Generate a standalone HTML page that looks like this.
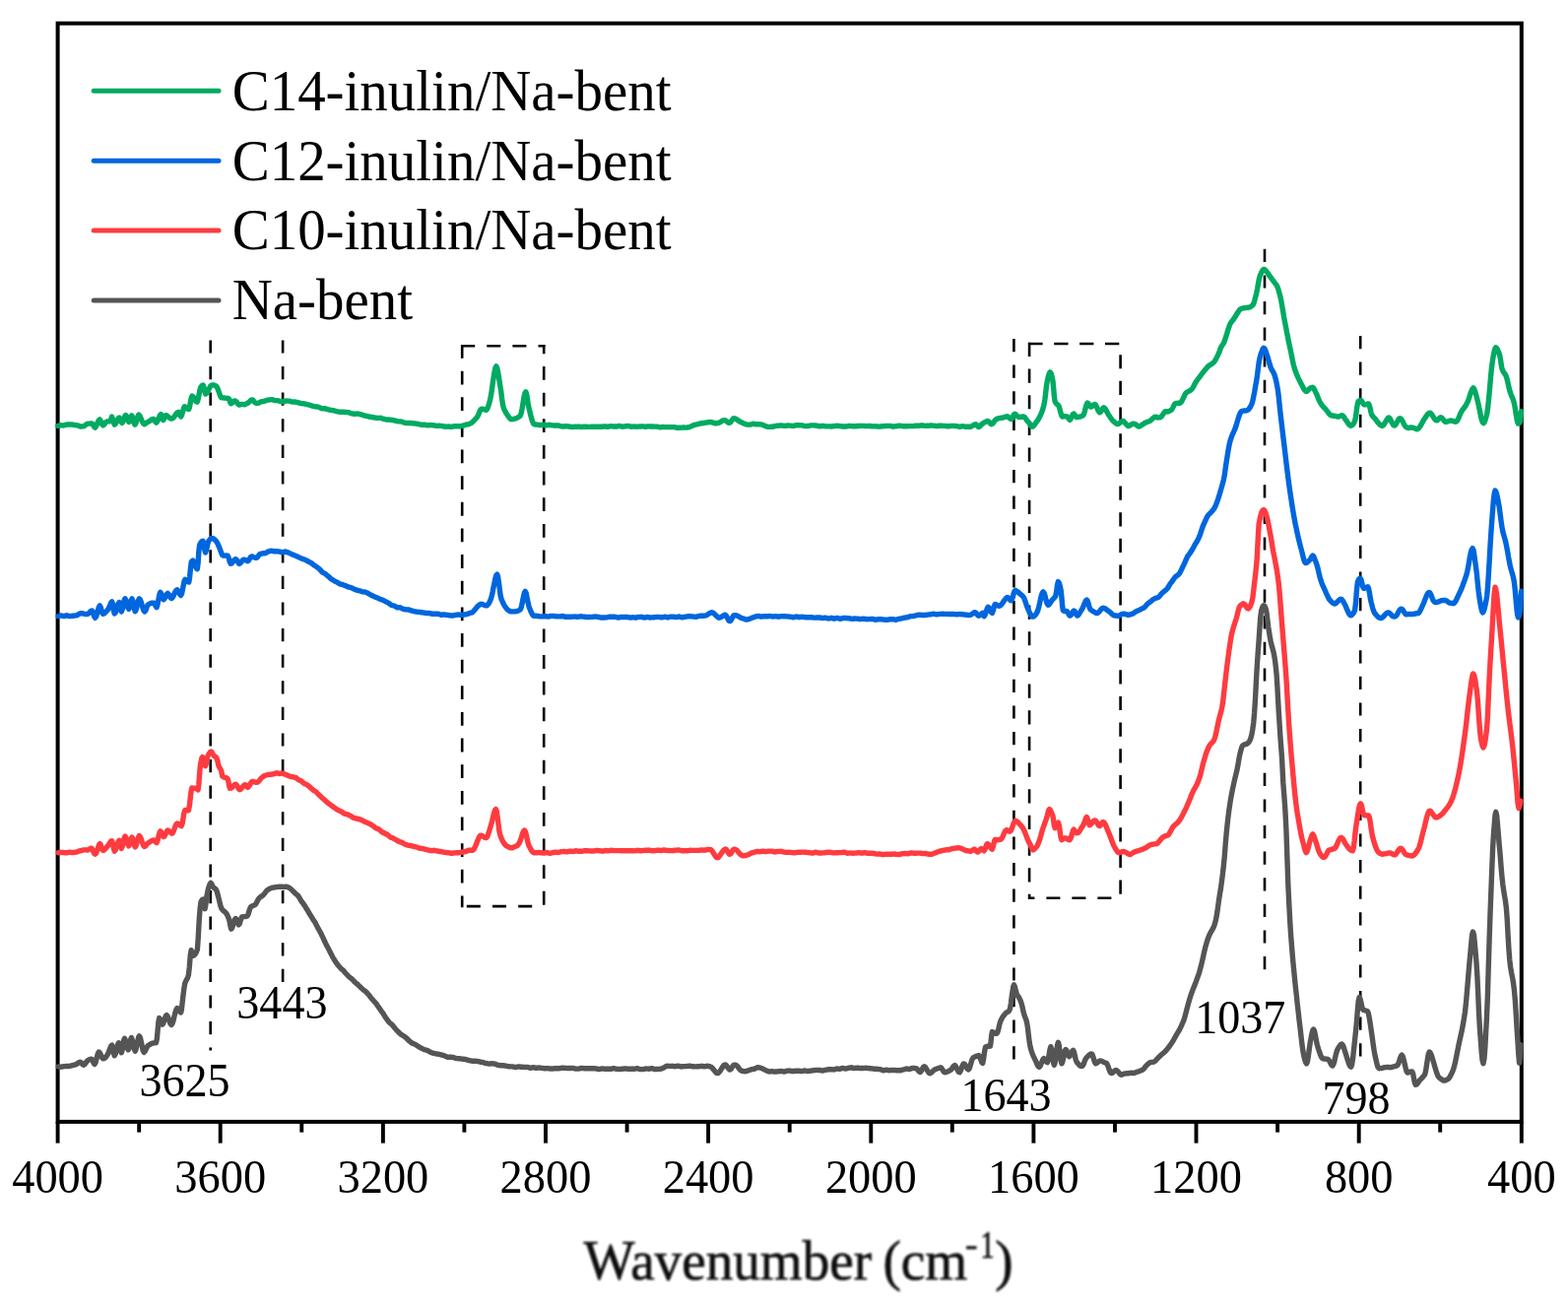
<!DOCTYPE html>
<html><head><meta charset="utf-8"><style>
html,body{margin:0;padding:0;background:#fff;}
svg{display:block;}
text{font-family:"Liberation Serif","Times New Roman",serif;fill:#000;}
.tl{font-size:48px;text-anchor:middle;}
.lg{font-size:59px;}
.an{font-size:48px;text-anchor:middle;}
.ax text{font-size:56px;fill:#111;stroke:#111;stroke-width:0.7px;}
.dash{stroke:#000;stroke-width:2.6;stroke-dasharray:13.5 13.1;}
.dashb{stroke:#000;stroke-width:2.6;stroke-dasharray:14.3 11.8;}
</style></head><body>
<svg width="1592" height="1330" viewBox="0 0 1592 1330">
<defs><filter id="bl" x="-5%" y="-20%" width="110%" height="140%"><feGaussianBlur stdDeviation="1.0"/></filter></defs>
<rect width="1592" height="1330" fill="#fff"/>
<rect x="58.6" y="23.7" width="1486.2" height="1115.2" fill="none" stroke="#000" stroke-width="4"/>
<line x1="58.6" y1="1138.9" x2="58.6" y2="1160.6" stroke="#000" stroke-width="3.9"/>
<text transform="translate(58.6,1211.1) scale(0.967,1)" class="tl">4000</text>
<line x1="223.7" y1="1138.9" x2="223.7" y2="1160.6" stroke="#000" stroke-width="3.9"/>
<text transform="translate(223.7,1211.1) scale(0.967,1)" class="tl">3600</text>
<line x1="388.9" y1="1138.9" x2="388.9" y2="1160.6" stroke="#000" stroke-width="3.9"/>
<text transform="translate(388.9,1211.1) scale(0.967,1)" class="tl">3200</text>
<line x1="554.0" y1="1138.9" x2="554.0" y2="1160.6" stroke="#000" stroke-width="3.9"/>
<text transform="translate(554.0,1211.1) scale(0.967,1)" class="tl">2800</text>
<line x1="719.1" y1="1138.9" x2="719.1" y2="1160.6" stroke="#000" stroke-width="3.9"/>
<text transform="translate(719.1,1211.1) scale(0.967,1)" class="tl">2400</text>
<line x1="884.3" y1="1138.9" x2="884.3" y2="1160.6" stroke="#000" stroke-width="3.9"/>
<text transform="translate(884.3,1211.1) scale(0.967,1)" class="tl">2000</text>
<line x1="1049.4" y1="1138.9" x2="1049.4" y2="1160.6" stroke="#000" stroke-width="3.9"/>
<text transform="translate(1049.4,1211.1) scale(0.967,1)" class="tl">1600</text>
<line x1="1214.5" y1="1138.9" x2="1214.5" y2="1160.6" stroke="#000" stroke-width="3.9"/>
<text transform="translate(1214.5,1211.1) scale(0.967,1)" class="tl">1200</text>
<line x1="1379.7" y1="1138.9" x2="1379.7" y2="1160.6" stroke="#000" stroke-width="3.9"/>
<text transform="translate(1379.7,1211.1) scale(0.967,1)" class="tl">800</text>
<line x1="1544.8" y1="1138.9" x2="1544.8" y2="1160.6" stroke="#000" stroke-width="3.9"/>
<text transform="translate(1544.8,1211.1) scale(0.967,1)" class="tl">400</text>
<line x1="141.2" y1="1138.9" x2="141.2" y2="1149.6" stroke="#000" stroke-width="3.9"/>
<line x1="306.3" y1="1138.9" x2="306.3" y2="1149.6" stroke="#000" stroke-width="3.9"/>
<line x1="471.4" y1="1138.9" x2="471.4" y2="1149.6" stroke="#000" stroke-width="3.9"/>
<line x1="636.6" y1="1138.9" x2="636.6" y2="1149.6" stroke="#000" stroke-width="3.9"/>
<line x1="801.7" y1="1138.9" x2="801.7" y2="1149.6" stroke="#000" stroke-width="3.9"/>
<line x1="966.8" y1="1138.9" x2="966.8" y2="1149.6" stroke="#000" stroke-width="3.9"/>
<line x1="1132.0" y1="1138.9" x2="1132.0" y2="1149.6" stroke="#000" stroke-width="3.9"/>
<line x1="1297.1" y1="1138.9" x2="1297.1" y2="1149.6" stroke="#000" stroke-width="3.9"/>
<line x1="1462.2" y1="1138.9" x2="1462.2" y2="1149.6" stroke="#000" stroke-width="3.9"/>
<line x1="213.7" y1="345.4" x2="213.7" y2="1066.5" stroke="#000" stroke-width="2.6" stroke-dasharray="13.2 13.4" stroke-dashoffset="0"/>
<line x1="287.1" y1="345.4" x2="287.1" y2="998.4" stroke="#000" stroke-width="2.6" stroke-dasharray="13.2 13.4" stroke-dashoffset="0"/>
<line x1="1029.4" y1="344" x2="1029.4" y2="1077.3" stroke="#000" stroke-width="2.6" stroke-dasharray="13.2 13.4" stroke-dashoffset="0"/>
<line x1="1284" y1="252.8" x2="1284" y2="986.6" stroke="#000" stroke-width="2.6" stroke-dasharray="13.2 13.4" stroke-dashoffset="0"/>
<line x1="1381.2" y1="341" x2="1381.2" y2="1074.8" stroke="#000" stroke-width="2.6" stroke-dasharray="13.2 13.4" stroke-dashoffset="0"/>
<line x1="468.2" y1="351.2" x2="553.4" y2="351.2" stroke="#000" stroke-width="2.6" stroke-dasharray="14.0 12.1" stroke-dashoffset="0"/>
<line x1="469.2" y1="350.0" x2="469.2" y2="921.2" stroke="#000" stroke-width="2.6" stroke-dasharray="13.8 12.84" stroke-dashoffset="0"/>
<line x1="552.2" y1="350.0" x2="552.2" y2="920.8" stroke="#000" stroke-width="2.6" stroke-dasharray="13.8 12.84" stroke-dashoffset="4.6"/>
<line x1="473.8" y1="920.1" x2="552.2" y2="920.1" stroke="#000" stroke-width="2.6" stroke-dasharray="14.0 12.2" stroke-dashoffset="0"/>
<line x1="1044.3" y1="349.0" x2="1137.6" y2="349.0" stroke="#000" stroke-width="2.6" stroke-dasharray="14.3 11.6" stroke-dashoffset="0"/>
<line x1="1045.1" y1="347.8" x2="1045.1" y2="912.9" stroke="#000" stroke-width="2.6" stroke-dasharray="14.2 12.47" stroke-dashoffset="0"/>
<line x1="1137.6" y1="349.0" x2="1137.6" y2="912.0" stroke="#000" stroke-width="2.6" stroke-dasharray="14.2 12.47" stroke-dashoffset="15.5"/>
<line x1="1044.3" y1="911.7" x2="1137.6" y2="911.7" stroke="#000" stroke-width="2.6" stroke-dasharray="14.0 12.0" stroke-dashoffset="7.9"/>
<polyline points="59.2,1082.9 60.2,1083.0 61.1,1083.1 62.1,1083.2 63.0,1083.0 64.0,1082.8 64.9,1082.6 65.9,1082.6 66.9,1082.5 67.8,1082.5 68.8,1082.5 69.7,1082.5 70.7,1082.4 71.7,1082.2 72.6,1081.9 73.6,1081.6 74.5,1081.4 75.5,1081.2 76.4,1080.9 77.4,1080.6 78.2,1080.0 79.1,1079.3 79.9,1078.8 80.8,1078.4 81.6,1078.3 82.4,1078.8 83.2,1079.8 84.0,1080.8 84.8,1081.3 85.7,1080.9 86.5,1079.9 87.4,1078.6 88.2,1077.4 89.1,1076.7 90.0,1076.2 90.9,1075.7 91.9,1075.3 92.8,1075.1 93.6,1075.8 94.4,1077.6 95.2,1079.5 96.0,1080.4 96.9,1079.2 97.7,1076.2 98.6,1072.6 99.4,1069.6 100.3,1068.1 101.2,1068.6 102.0,1070.0 102.9,1072.2 103.7,1074.0 104.6,1074.8 105.6,1074.7 106.5,1074.2 107.5,1073.3 108.4,1071.9 109.4,1070.3 110.3,1068.3 111.1,1066.0 112.0,1063.7 112.8,1061.8 113.7,1061.1 114.6,1064.0 115.4,1069.3 116.3,1071.8 117.2,1070.2 118.0,1066.8 118.9,1063.1 119.7,1060.1 120.6,1058.8 121.5,1061.5 122.4,1066.2 123.3,1068.8 124.1,1066.4 124.9,1061.3 125.7,1056.3 126.5,1054.3 127.4,1056.1 128.3,1060.1 129.3,1064.0 130.2,1065.9 131.0,1064.0 131.8,1059.8 132.6,1055.5 133.4,1053.6 134.3,1055.7 135.3,1060.4 136.2,1065.1 137.2,1067.2 138.0,1065.5 138.9,1061.5 139.7,1057.1 140.6,1053.3 141.4,1051.8 142.4,1053.5 143.3,1057.6 144.3,1062.4 145.2,1066.6 146.2,1068.3 147.1,1067.5 148.1,1065.6 149.1,1063.4 150.0,1061.9 150.9,1061.2 151.8,1060.6 152.7,1060.1 153.5,1059.6 154.4,1059.2 155.3,1059.1 156.1,1058.9 156.9,1058.8 157.7,1058.6 158.5,1058.7 159.3,1054.9 160.1,1046.3 160.9,1037.6 161.7,1033.6 162.5,1034.5 163.3,1036.7 164.1,1039.0 164.9,1040.1 165.8,1039.0 166.6,1036.6 167.5,1033.7 168.3,1031.5 169.2,1030.6 170.2,1031.7 171.1,1034.1 172.1,1037.0 173.0,1039.4 174.0,1040.5 175.0,1039.3 176.0,1036.1 176.9,1032.1 177.9,1028.1 178.9,1025.0 179.9,1023.6 180.8,1024.2 181.8,1025.6 182.7,1027.2 183.6,1028.0 184.3,1025.5 185.0,1019.2 185.7,1012.9 186.4,1007.2 187.1,1001.9 187.8,998.3 188.7,996.0 189.6,994.4 190.5,992.7 191.4,990.0 192.3,982.0 193.2,970.5 194.1,964.7 195.0,967.5 195.9,970.3 196.8,970.1 197.7,969.3 198.6,968.1 199.5,966.3 200.4,963.9 201.3,951.1 202.2,934.0 203.1,922.6 204.0,915.7 204.8,914.2 205.5,913.3 206.3,913.0 207.2,917.7 208.1,922.7 209.0,917.6 209.9,910.0 210.7,906.0 211.4,902.6 212.2,899.9 213.1,897.5 214.0,896.3 214.7,897.2 215.5,898.8 216.2,900.3 217.0,901.2 217.8,901.7 218.6,902.3 219.4,903.2 220.3,905.3 221.2,908.7 222.1,912.1 223.0,915.8 223.9,919.6 224.8,922.2 225.7,923.5 226.6,924.5 227.5,925.2 228.4,925.9 229.3,926.8 230.2,927.9 231.1,929.8 232.0,931.9 232.9,934.6 233.8,939.5 234.7,943.2 235.6,942.1 236.5,939.5 237.4,936.3 238.3,933.7 239.2,932.5 240.0,933.4 240.8,935.4 241.6,937.7 242.4,938.8 243.2,937.9 244.0,935.3 244.8,932.6 245.6,931.0 246.5,930.8 247.4,930.6 248.3,930.6 249.2,930.5 250.1,930.3 251.0,930.1 251.9,928.6 252.8,925.6 253.7,922.6 254.6,920.8 255.5,920.2 256.4,919.8 257.3,919.4 258.2,919.0 259.1,918.4 260.0,917.4 260.9,915.6 261.8,913.8 262.7,912.3 263.6,911.4 264.5,910.7 265.4,910.1 266.3,909.5 267.2,908.7 268.1,907.7 269.0,906.6 269.9,905.4 270.8,904.3 271.7,903.5 272.6,902.9 273.5,902.5 274.4,902.0 275.3,901.6 276.2,901.3 277.1,901.1 278.0,901.0 278.9,900.8 279.8,900.6 280.7,900.6 281.6,900.5 282.5,900.4 283.4,900.3 284.4,900.3 285.3,900.3 286.2,900.3 287.1,900.4 288.0,900.5 289.0,900.3 290.0,900.1 290.9,900.2 291.9,900.6 292.8,900.9 293.7,901.4 294.6,902.0 295.6,902.8 296.5,903.7 297.4,904.6 298.3,905.5 299.3,906.5 300.2,907.4 301.1,908.1 302.1,908.9 303.0,909.9 304.0,911.4 304.9,913.1 305.9,914.8 306.8,916.1 307.8,917.3 308.7,918.6 309.7,920.1 310.6,921.6 311.6,923.2 312.6,924.8 313.5,926.4 314.5,928.1 315.4,929.6 316.4,931.1 317.4,932.7 318.3,934.2 319.3,935.6 320.3,937.1 321.2,939.0 322.2,940.9 323.1,942.8 324.1,944.4 325.0,946.1 326.0,947.8 326.9,949.9 327.9,951.9 328.8,953.9 329.8,956.0 330.7,958.0 331.6,959.9 332.6,961.6 333.5,963.3 334.4,965.0 335.3,966.9 336.3,968.7 337.2,970.5 338.1,972.2 339.0,973.8 340.0,975.4 340.9,976.8 341.9,978.1 342.8,979.4 343.8,980.7 344.8,981.8 345.8,982.9 346.7,983.8 347.7,984.6 348.7,985.4 349.6,986.6 350.6,987.7 351.6,988.8 352.6,989.8 353.5,990.8 354.5,991.8 355.4,992.6 356.4,993.3 357.4,994.0 358.3,995.0 359.2,996.0 360.2,997.0 361.1,997.8 362.1,998.6 363.1,999.4 364.0,1000.3 364.9,1001.2 365.9,1002.1 366.8,1003.0 367.8,1003.9 368.8,1004.8 369.7,1005.5 370.7,1006.2 371.7,1007.0 372.7,1008.1 373.7,1009.2 374.7,1010.3 375.6,1011.6 376.6,1012.9 377.6,1014.2 378.6,1015.2 379.6,1016.3 380.6,1017.3 381.6,1018.6 382.6,1019.8 383.5,1021.2 384.5,1022.6 385.5,1024.1 386.5,1025.6 387.4,1026.9 388.4,1028.2 389.4,1029.5 390.3,1031.1 391.3,1032.7 392.3,1034.2 393.3,1035.5 394.2,1036.8 395.2,1038.0 396.2,1038.8 397.1,1039.6 398.1,1040.4 399.1,1041.6 400.0,1042.8 401.0,1044.0 401.9,1045.0 402.9,1046.1 403.9,1047.1 404.8,1048.1 405.8,1049.0 406.8,1049.9 407.7,1050.5 408.7,1051.1 409.7,1051.7 410.7,1052.5 411.7,1053.2 412.7,1054.0 413.7,1055.0 414.7,1056.0 415.7,1057.0 416.7,1057.8 417.7,1058.5 418.7,1059.2 419.7,1059.6 420.7,1060.0 421.7,1060.4 422.7,1061.1 423.7,1061.8 424.7,1062.4 425.7,1063.0 426.7,1063.6 427.7,1064.2 428.7,1064.7 429.7,1065.2 430.7,1065.7 431.7,1065.9 432.7,1066.1 433.7,1066.3 434.6,1066.9 435.6,1067.4 436.6,1068.0 437.6,1068.4 438.6,1068.8 439.6,1069.1 440.6,1069.4 441.6,1069.6 442.6,1069.8 443.6,1070.0 444.6,1070.2 445.6,1070.4 446.6,1070.6 447.6,1070.8 448.6,1071.0 449.6,1071.4 450.6,1071.7 451.6,1072.1 452.6,1072.5 453.6,1072.9 454.6,1073.3 455.6,1073.2 456.6,1073.2 457.6,1073.2 458.6,1073.3 459.6,1073.5 460.6,1073.7 461.6,1074.0 462.6,1074.3 463.6,1074.6 464.6,1074.6 465.6,1074.7 466.6,1074.7 467.6,1074.9 468.6,1075.1 469.6,1075.2 470.6,1075.3 471.6,1075.4 472.6,1075.5 473.6,1075.9 474.6,1076.2 475.6,1076.5 476.6,1076.7 477.6,1076.9 478.6,1077.1 479.6,1077.2 480.6,1077.2 481.6,1077.3 482.6,1077.3 483.6,1077.4 484.6,1077.4 485.5,1077.6 486.5,1077.8 487.5,1078.0 488.5,1078.3 489.5,1078.5 490.5,1078.7 491.5,1079.0 492.5,1079.3 493.5,1079.5 494.5,1079.7 495.5,1079.9 496.5,1080.1 497.5,1080.0 498.5,1079.9 499.5,1079.8 500.5,1079.9 501.5,1080.0 502.5,1080.1 503.5,1080.5 504.5,1080.9 505.5,1081.3 506.5,1081.5 507.5,1081.7 508.5,1081.9 509.5,1081.8 510.5,1081.8 511.5,1081.8 512.5,1082.0 513.5,1082.2 514.5,1082.4 515.5,1082.6 516.5,1082.7 517.5,1082.9 518.5,1082.9 519.4,1082.9 520.4,1082.9 521.4,1083.1 522.4,1083.3 523.4,1083.5 524.4,1083.3 525.4,1083.1 526.4,1082.9 527.4,1083.0 528.4,1083.2 529.4,1083.3 530.4,1083.3 531.4,1083.4 532.4,1083.5 533.4,1083.4 534.4,1083.4 535.4,1083.4 536.4,1083.7 537.4,1084.0 538.4,1084.3 539.4,1084.1 540.4,1083.8 541.4,1083.6 542.4,1083.8 543.4,1084.1 544.4,1084.4 545.4,1084.2 546.3,1084.1 547.3,1083.9 548.2,1084.1 549.2,1084.3 550.1,1084.4 551.1,1084.5 552.0,1084.6 553.0,1084.7 554.0,1084.7 554.9,1084.6 555.9,1084.6 556.8,1084.7 557.8,1084.9 558.7,1085.0 559.7,1085.0 560.6,1085.0 561.5,1085.0 562.4,1084.9 563.3,1084.7 564.2,1084.6 565.1,1084.7 566.0,1084.7 566.9,1084.9 567.8,1084.6 568.8,1084.5 569.8,1084.3 570.8,1084.3 571.7,1084.3 572.7,1084.3 573.7,1084.4 574.7,1084.4 575.7,1084.5 576.7,1084.5 577.6,1084.5 578.6,1084.5 579.6,1084.5 580.6,1084.4 581.6,1084.4 582.6,1084.6 583.6,1084.9 584.5,1085.1 585.5,1085.1 586.5,1085.1 587.5,1085.1 588.5,1084.9 589.5,1084.6 590.4,1084.4 591.4,1084.5 592.4,1084.6 593.4,1084.7 594.4,1084.7 595.4,1084.7 596.4,1084.6 597.3,1084.7 598.3,1084.8 599.3,1084.9 600.3,1084.8 601.3,1084.8 602.3,1084.8 603.2,1084.8 604.2,1084.9 605.2,1085.0 606.2,1085.2 607.2,1085.3 608.2,1085.5 609.2,1085.3 610.1,1085.1 611.1,1085.0 612.1,1085.0 613.1,1085.1 614.1,1085.2 615.1,1085.2 616.0,1085.2 617.0,1085.2 618.0,1085.2 619.0,1085.3 620.0,1085.4 621.0,1085.1 622.0,1084.9 623.0,1084.7 624.0,1084.9 625.0,1085.1 626.0,1085.3 627.0,1085.4 628.0,1085.5 629.0,1085.5 630.0,1085.4 631.0,1085.3 632.0,1085.2 633.0,1085.1 634.0,1085.0 635.0,1084.9 636.0,1085.0 637.0,1085.1 638.0,1085.3 639.0,1085.3 640.0,1085.3 641.0,1085.3 642.0,1085.3 643.0,1085.3 644.0,1085.3 645.0,1085.1 646.0,1084.9 647.0,1084.7 648.0,1085.0 649.0,1085.3 650.0,1085.6 651.0,1085.6 652.0,1085.6 653.0,1085.6 654.0,1085.4 655.0,1085.2 656.0,1085.0 657.0,1085.1 658.0,1085.1 659.0,1085.2 660.0,1085.0 661.0,1084.8 662.0,1084.6 663.0,1085.0 664.0,1085.3 665.0,1085.6 666.0,1085.5 667.0,1085.5 668.0,1085.4 669.0,1085.4 670.0,1085.3 671.0,1085.1 671.9,1084.9 672.9,1084.5 673.9,1084.1 674.8,1083.5 675.8,1082.9 676.7,1082.4 677.7,1082.3 678.7,1082.4 679.7,1082.4 680.7,1082.4 681.6,1082.4 682.6,1082.3 683.6,1082.5 684.6,1082.6 685.6,1082.7 686.6,1082.5 687.5,1082.4 688.5,1082.2 689.5,1082.5 690.5,1082.7 691.5,1083.0 692.5,1082.9 693.4,1082.7 694.4,1082.6 695.4,1082.6 696.4,1082.6 697.4,1082.5 698.4,1082.4 699.4,1082.3 700.3,1082.2 701.3,1082.4 702.3,1082.6 703.3,1082.8 704.3,1082.8 705.3,1082.9 706.2,1082.9 707.2,1082.9 708.2,1082.8 709.2,1082.7 710.2,1082.6 711.2,1082.5 712.1,1082.3 713.1,1082.5 714.1,1082.7 715.1,1082.9 716.1,1082.7 717.1,1082.5 718.0,1082.2 719.0,1082.5 720.0,1082.7 721.0,1082.9 721.9,1083.2 722.8,1083.9 723.7,1084.9 724.6,1086.1 725.6,1087.3 726.5,1088.4 727.4,1089.3 728.3,1089.6 729.2,1089.4 730.1,1088.6 731.0,1087.5 731.9,1086.1 732.9,1084.5 733.8,1083.0 734.7,1081.7 735.6,1081.1 736.5,1081.0 737.4,1081.7 738.3,1082.8 739.2,1084.2 740.1,1085.3 741.0,1086.0 741.9,1085.6 742.8,1084.5 743.6,1083.0 744.5,1081.7 745.4,1081.1 746.4,1081.1 747.4,1081.5 748.4,1082.2 749.4,1083.5 750.4,1084.8 751.4,1086.1 752.4,1086.9 753.4,1087.4 754.4,1087.5 755.4,1087.6 756.4,1087.7 757.3,1087.6 758.3,1087.4 759.3,1087.0 760.3,1086.7 761.2,1086.3 762.2,1086.0 763.2,1085.6 764.2,1085.5 765.1,1085.3 766.1,1085.2 767.1,1084.6 768.1,1084.1 769.0,1083.7 770.0,1083.8 771.0,1083.9 772.0,1084.2 773.0,1084.4 774.0,1084.9 775.0,1085.4 776.0,1085.9 777.0,1086.4 778.0,1086.8 779.0,1087.3 780.0,1087.7 781.0,1088.0 782.0,1087.9 783.0,1087.8 784.0,1087.8 785.0,1087.9 786.0,1088.0 787.0,1088.1 788.0,1088.0 789.0,1087.9 790.0,1087.8 791.0,1087.7 792.0,1087.6 793.0,1087.5 794.0,1087.7 795.0,1087.9 796.0,1088.1 797.0,1087.8 798.0,1087.5 799.0,1087.2 800.0,1087.1 801.0,1087.1 802.0,1087.0 803.0,1087.3 804.0,1087.5 805.0,1087.7 806.0,1087.5 807.0,1087.4 808.0,1087.2 809.0,1087.2 810.0,1087.2 811.0,1087.2 812.0,1087.3 813.0,1087.5 814.0,1087.6 815.0,1087.4 816.0,1087.2 817.0,1087.0 818.0,1087.1 819.0,1087.3 820.0,1087.5 821.0,1087.4 822.0,1087.3 823.0,1087.1 824.0,1087.0 825.0,1086.9 826.0,1086.7 827.0,1086.6 828.0,1086.5 829.0,1086.4 830.0,1086.4 831.0,1086.5 832.0,1086.5 832.9,1086.7 833.9,1086.9 834.9,1087.0 835.9,1086.8 836.9,1086.5 837.9,1086.3 838.8,1086.1 839.8,1086.0 840.8,1085.8 841.8,1085.8 842.8,1085.7 843.7,1085.7 844.7,1085.8 845.7,1085.9 846.7,1086.0 847.7,1085.7 848.7,1085.3 849.6,1085.0 850.6,1085.1 851.6,1085.2 852.6,1085.3 853.6,1085.0 854.6,1084.7 855.5,1084.4 856.5,1084.6 857.5,1084.8 858.5,1085.0 859.5,1084.8 860.4,1084.6 861.4,1084.4 862.4,1084.2 863.4,1084.0 864.4,1083.8 865.4,1084.1 866.3,1084.4 867.3,1084.6 868.3,1084.4 869.3,1084.3 870.3,1084.1 871.3,1084.2 872.2,1084.4 873.2,1084.5 874.2,1084.5 875.2,1084.5 876.2,1084.5 877.2,1084.4 878.1,1084.4 879.1,1084.3 880.1,1084.4 881.1,1084.5 882.1,1084.6 883.1,1084.7 884.1,1084.8 885.0,1084.9 886.0,1085.0 887.0,1085.1 888.0,1085.2 889.0,1085.3 890.0,1085.3 890.9,1085.4 891.9,1085.5 892.9,1085.6 893.9,1085.7 894.9,1086.1 895.9,1086.4 896.9,1086.8 897.8,1086.6 898.8,1086.4 899.8,1086.2 900.8,1086.4 901.8,1086.6 902.8,1086.7 903.7,1086.6 904.7,1086.5 905.7,1086.4 906.7,1086.5 907.7,1086.5 908.6,1086.5 909.6,1086.6 910.6,1086.7 911.6,1086.8 912.5,1086.8 913.5,1086.7 914.5,1086.7 915.4,1086.4 916.4,1086.1 917.4,1085.9 918.4,1085.6 919.3,1085.3 920.3,1085.0 921.3,1085.2 922.2,1085.4 923.2,1085.6 924.2,1085.2 925.1,1084.8 926.1,1084.4 927.1,1084.5 928.1,1084.5 929.0,1084.6 930.0,1084.6 930.8,1085.0 931.6,1085.9 932.5,1087.1 933.3,1088.0 934.1,1088.5 934.9,1087.9 935.8,1086.5 936.6,1084.9 937.5,1083.4 938.3,1082.8 939.2,1083.2 940.1,1084.4 941.0,1086.0 942.0,1087.6 942.9,1089.0 943.8,1089.7 944.7,1089.6 945.6,1088.9 946.5,1088.1 947.5,1087.1 948.4,1086.3 949.3,1085.8 950.2,1085.4 951.2,1085.0 952.1,1084.7 953.0,1084.4 954.0,1084.1 954.9,1083.8 955.7,1084.1 956.5,1085.4 957.4,1086.8 958.2,1088.1 959.0,1088.7 959.9,1088.6 960.8,1088.5 961.8,1088.1 962.7,1087.7 963.6,1087.2 964.5,1086.8 965.5,1086.1 966.5,1085.0 967.4,1083.5 968.4,1082.2 969.4,1081.6 970.4,1082.5 971.3,1084.4 972.3,1086.5 973.2,1088.2 974.2,1088.8 975.0,1087.7 975.9,1085.6 976.7,1083.1 977.6,1081.0 978.4,1079.9 979.4,1080.3 980.3,1081.7 981.3,1083.6 982.2,1085.2 983.2,1086.0 984.2,1084.8 985.1,1082.0 986.1,1078.6 987.0,1075.7 988.0,1074.0 988.9,1073.3 989.9,1072.8 990.8,1072.5 991.7,1072.3 992.7,1071.8 993.6,1071.5 994.4,1072.1 995.2,1074.2 996.1,1076.6 996.9,1078.7 997.7,1079.4 998.6,1075.2 999.6,1067.6 1000.5,1063.1 1001.5,1062.5 1002.4,1062.2 1003.4,1062.3 1004.3,1062.4 1005.3,1062.2 1006.0,1058.2 1006.7,1051.3 1007.4,1047.6 1008.4,1048.0 1009.3,1048.6 1010.3,1049.2 1011.2,1049.3 1012.2,1049.2 1013.1,1047.3 1014.0,1043.9 1014.8,1040.0 1015.7,1037.2 1016.6,1035.2 1017.5,1033.4 1018.5,1031.8 1019.4,1030.7 1020.3,1029.6 1021.2,1028.5 1022.0,1027.9 1022.9,1027.5 1023.7,1027.1 1024.6,1026.1 1025.4,1024.6 1026.4,1018.6 1027.4,1010.7 1028.1,1006.1 1028.8,1001.8 1029.5,999.9 1030.4,1001.9 1031.4,1006.1 1032.3,1009.3 1033.1,1010.8 1033.9,1011.8 1034.8,1013.2 1035.6,1014.7 1036.4,1016.6 1037.3,1019.4 1038.2,1023.1 1039.0,1027.1 1039.9,1030.3 1040.8,1032.7 1041.7,1034.9 1042.6,1038.2 1043.5,1043.6 1044.3,1051.0 1045.2,1058.0 1046.1,1063.1 1046.9,1065.9 1047.7,1068.5 1048.6,1070.7 1049.4,1072.8 1050.2,1074.3 1051.2,1076.4 1052.2,1078.5 1053.1,1080.9 1054.1,1082.6 1055.1,1083.3 1056.1,1082.5 1057.0,1080.3 1058.0,1077.8 1058.9,1075.5 1059.9,1074.6 1060.8,1075.3 1061.7,1076.7 1062.5,1078.2 1063.4,1078.7 1064.2,1076.4 1065.1,1070.9 1066.0,1065.5 1066.8,1062.7 1067.7,1065.4 1068.5,1071.6 1069.4,1078.2 1070.3,1081.3 1071.1,1079.1 1071.9,1073.4 1072.8,1066.5 1073.6,1060.8 1074.4,1058.3 1075.3,1061.5 1076.2,1068.8 1077.0,1076.3 1077.9,1079.8 1078.7,1078.5 1079.5,1075.0 1080.4,1070.7 1081.2,1067.1 1082.0,1065.6 1082.9,1066.6 1083.8,1068.9 1084.6,1071.4 1085.5,1072.6 1086.3,1072.1 1087.1,1070.5 1088.0,1068.6 1088.8,1067.0 1089.6,1066.4 1090.5,1068.1 1091.3,1071.7 1092.2,1075.6 1093.1,1078.1 1094.0,1079.2 1094.9,1080.3 1095.8,1081.3 1096.8,1082.1 1097.7,1082.4 1098.6,1082.5 1099.4,1081.8 1100.3,1080.0 1101.1,1077.8 1102.0,1075.6 1102.8,1074.2 1103.7,1073.2 1104.6,1072.3 1105.5,1071.4 1106.5,1070.6 1107.4,1070.1 1108.3,1069.9 1109.1,1070.8 1109.9,1073.1 1110.8,1076.1 1111.6,1078.6 1112.4,1079.8 1113.4,1079.4 1114.4,1078.7 1115.3,1077.8 1116.3,1077.2 1117.3,1077.0 1118.2,1077.1 1119.1,1077.5 1120.0,1078.0 1120.8,1078.5 1121.7,1078.8 1122.6,1079.1 1123.5,1079.5 1124.5,1081.1 1125.4,1083.7 1126.4,1086.6 1127.3,1088.7 1128.3,1089.6 1129.3,1089.4 1130.2,1088.5 1131.2,1087.6 1132.1,1086.8 1133.1,1086.5 1134.0,1086.9 1135.0,1087.8 1135.9,1088.9 1136.8,1090.1 1137.8,1091.1 1138.7,1091.2 1139.6,1090.9 1140.5,1090.4 1141.5,1090.2 1142.4,1090.0 1143.3,1089.9 1144.2,1089.8 1145.1,1089.7 1146.0,1089.7 1147.0,1089.5 1147.9,1089.3 1148.8,1089.1 1149.7,1089.3 1150.5,1089.4 1151.2,1089.5 1152.0,1089.2 1153.0,1088.8 1154.0,1088.4 1155.0,1088.1 1156.0,1087.8 1157.0,1087.4 1158.0,1087.0 1159.0,1086.6 1160.0,1086.2 1160.9,1085.4 1161.9,1084.4 1162.8,1083.1 1163.8,1082.0 1164.7,1081.0 1165.7,1080.2 1166.6,1079.4 1167.6,1078.8 1168.6,1078.4 1169.6,1078.4 1170.6,1078.3 1171.6,1078.1 1172.6,1077.4 1173.6,1076.5 1174.5,1075.4 1175.5,1074.4 1176.5,1073.3 1177.5,1072.4 1178.4,1071.5 1179.4,1070.7 1180.3,1069.8 1181.3,1069.0 1182.2,1068.2 1183.2,1067.3 1184.1,1066.2 1185.1,1065.1 1186.0,1064.0 1187.0,1062.7 1187.9,1061.4 1188.9,1060.0 1189.8,1058.6 1190.7,1057.2 1191.7,1055.6 1192.6,1053.9 1193.6,1052.2 1194.5,1050.5 1195.5,1048.9 1196.4,1047.4 1197.4,1045.8 1198.4,1043.7 1199.4,1041.6 1200.4,1039.2 1201.4,1037.1 1202.2,1034.9 1203.0,1032.2 1203.9,1028.9 1204.7,1025.7 1205.5,1022.7 1206.3,1019.6 1207.1,1016.7 1208.0,1013.8 1208.8,1011.2 1209.6,1008.8 1210.6,1006.1 1211.6,1003.5 1212.6,1001.1 1213.6,998.6 1214.6,995.9 1215.4,993.7 1216.2,991.4 1217.1,989.0 1217.9,986.3 1218.7,983.3 1219.6,980.0 1220.4,976.5 1221.2,973.1 1222.0,969.5 1222.8,965.8 1223.7,962.2 1224.5,959.2 1225.3,956.4 1226.2,953.7 1227.0,951.4 1227.8,949.4 1228.8,947.4 1229.8,945.6 1230.8,943.9 1231.8,942.1 1232.8,939.7 1233.6,937.1 1234.5,933.7 1235.3,929.6 1236.1,924.5 1236.9,918.5 1237.7,912.9 1238.5,907.7 1239.4,902.5 1240.2,896.7 1241.2,889.0 1242.2,880.4 1243.2,870.4 1243.8,862.7 1244.4,854.8 1245.2,846.0 1246.0,838.0 1246.8,830.8 1247.6,824.2 1248.5,818.1 1249.3,812.7 1250.3,807.0 1251.3,801.9 1252.3,797.2 1253.2,793.1 1254.1,789.4 1255.0,785.6 1255.9,782.0 1256.9,776.7 1257.9,770.8 1258.9,765.6 1259.9,761.7 1260.9,758.4 1261.9,756.7 1262.7,756.2 1263.6,755.9 1264.4,755.7 1265.3,755.5 1266.1,755.1 1267.0,754.4 1267.9,753.5 1268.8,752.1 1269.7,750.0 1270.7,746.6 1271.7,741.2 1272.7,734.1 1273.6,723.9 1274.5,709.9 1275.1,698.2 1275.7,686.3 1276.5,673.2 1277.3,661.5 1278.1,650.5 1278.9,638.7 1279.7,627.3 1280.5,620.5 1281.3,617.8 1282.2,615.6 1283.0,614.7 1283.8,615.0 1284.6,616.6 1285.4,618.7 1286.2,623.2 1287.0,630.2 1287.8,636.8 1288.6,642.1 1289.4,647.0 1290.2,651.3 1291.1,655.0 1292.0,658.2 1292.9,661.6 1293.8,666.0 1294.6,671.1 1295.4,677.8 1296.2,686.1 1296.9,697.2 1297.6,710.0 1298.3,722.5 1299.1,734.9 1299.8,746.4 1300.7,758.2 1301.6,770.6 1302.2,782.6 1302.8,794.5 1303.7,806.4 1304.6,818.1 1305.3,830.0 1306.0,844.6 1306.9,870.8 1307.8,897.3 1308.8,917.9 1309.7,934.9 1310.6,949.1 1311.6,961.5 1312.5,972.8 1313.5,983.2 1314.4,992.6 1315.3,1001.4 1316.3,1010.2 1317.2,1019.0 1318.2,1027.5 1319.1,1035.9 1320.1,1043.9 1321.0,1051.9 1321.9,1060.0 1322.9,1067.1 1323.8,1072.1 1324.7,1075.6 1325.7,1078.6 1326.6,1079.9 1327.5,1077.5 1328.5,1071.1 1329.5,1063.5 1330.4,1057.5 1331.2,1053.4 1332.0,1049.3 1332.8,1046.1 1333.6,1045.0 1334.5,1046.6 1335.3,1050.3 1336.2,1054.9 1337.0,1059.5 1337.9,1062.9 1338.8,1065.7 1339.8,1068.5 1340.7,1071.1 1341.6,1073.1 1342.6,1074.5 1343.5,1075.0 1344.4,1075.0 1345.4,1075.0 1346.3,1075.1 1347.3,1075.3 1348.2,1075.4 1349.1,1076.3 1350.1,1077.8 1351.0,1079.7 1352.0,1081.3 1352.9,1082.0 1353.8,1080.7 1354.8,1077.6 1355.7,1073.3 1356.7,1069.2 1357.6,1066.2 1358.5,1064.5 1359.5,1062.9 1360.4,1061.5 1361.4,1060.4 1362.3,1060.0 1363.2,1060.9 1364.2,1063.0 1365.1,1066.0 1366.1,1069.1 1367.0,1072.0 1367.9,1074.8 1368.9,1077.9 1369.8,1080.5 1370.8,1082.5 1371.7,1083.2 1372.6,1080.8 1373.6,1074.5 1374.5,1065.9 1375.5,1056.6 1376.4,1048.0 1377.4,1038.1 1378.3,1026.3 1379.2,1016.5 1380.2,1012.4 1381.1,1014.3 1382.1,1018.6 1383.0,1023.1 1383.9,1025.3 1384.8,1025.6 1385.8,1025.7 1386.7,1026.0 1387.7,1026.3 1388.6,1026.9 1389.5,1029.4 1390.5,1034.7 1391.5,1041.1 1392.4,1047.4 1393.3,1053.7 1394.2,1060.5 1395.2,1066.9 1396.1,1071.9 1397.1,1076.1 1398.0,1080.2 1399.0,1083.3 1400.0,1084.7 1401.0,1084.6 1402.0,1084.6 1403.0,1084.5 1404.0,1084.2 1405.0,1083.9 1406.0,1083.6 1407.0,1083.6 1408.0,1083.5 1409.0,1083.4 1410.0,1083.5 1411.0,1083.6 1412.0,1083.7 1413.0,1083.5 1414.0,1083.2 1414.9,1082.9 1415.8,1082.7 1416.8,1082.4 1417.7,1082.1 1418.6,1081.8 1419.5,1080.5 1420.5,1077.9 1421.4,1074.8 1422.4,1072.3 1423.3,1071.2 1424.3,1072.6 1425.2,1075.9 1426.2,1080.2 1427.2,1084.4 1428.1,1087.7 1429.1,1089.0 1430.0,1088.8 1431.0,1088.5 1431.9,1088.1 1432.9,1087.9 1433.8,1087.9 1434.7,1090.2 1435.5,1094.8 1436.4,1099.4 1437.3,1101.3 1438.2,1101.0 1439.1,1100.1 1440.1,1098.7 1441.0,1097.3 1441.9,1096.2 1442.8,1095.4 1443.8,1094.4 1444.7,1093.4 1445.7,1092.1 1446.6,1091.0 1447.5,1087.7 1448.4,1081.9 1449.4,1075.4 1450.3,1070.2 1451.2,1068.0 1452.1,1068.7 1453.1,1070.7 1454.0,1073.4 1455.0,1076.7 1455.9,1079.8 1456.8,1082.9 1457.8,1086.2 1458.7,1089.3 1459.7,1091.9 1460.6,1093.5 1461.6,1094.3 1462.6,1095.1 1463.6,1095.9 1464.6,1096.5 1465.6,1097.1 1466.6,1097.0 1467.6,1096.8 1468.6,1096.3 1469.6,1095.9 1470.6,1095.2 1471.5,1094.2 1472.5,1092.4 1473.5,1090.5 1474.5,1088.4 1475.5,1086.0 1476.5,1082.6 1477.5,1078.4 1478.5,1073.6 1479.5,1068.6 1480.5,1063.5 1481.5,1058.6 1482.5,1054.1 1483.5,1049.7 1484.5,1045.1 1485.4,1040.0 1486.4,1034.3 1487.4,1027.9 1488.3,1019.9 1489.2,1009.7 1490.2,998.3 1491.1,987.0 1492.0,976.9 1492.9,967.3 1493.8,957.2 1494.6,949.3 1495.5,946.0 1496.4,948.9 1497.2,956.4 1498.1,966.4 1499.0,977.2 1499.9,991.5 1500.8,1010.6 1501.6,1029.9 1502.5,1045.0 1503.4,1056.9 1504.2,1068.2 1505.1,1076.6 1506.0,1079.7 1506.9,1075.3 1507.8,1064.1 1508.6,1049.0 1509.5,1032.6 1510.4,1011.4 1511.2,983.7 1512.1,954.3 1513.0,928.2 1513.9,904.7 1514.8,881.6 1515.6,861.4 1516.5,846.3 1517.3,836.0 1518.0,827.5 1518.8,824.3 1519.7,828.2 1520.5,837.3 1521.4,848.3 1522.3,858.7 1523.2,868.6 1524.0,879.2 1524.9,889.4 1525.8,897.8 1526.7,904.1 1527.5,909.1 1528.4,914.4 1529.3,921.2 1530.2,932.7 1531.0,948.0 1531.9,963.5 1532.8,975.0 1533.7,982.4 1534.6,987.8 1535.6,992.5 1536.5,997.8 1537.4,1005.0 1538.3,1015.3 1539.2,1028.6 1540.0,1042.7 1540.9,1056.0 1541.8,1070.6 1542.6,1079.2 1543.3,1072.3 1544.0,1060.6" fill="none" stroke="#555555" stroke-width="5.4" stroke-linejoin="round" stroke-linecap="round"/>
<polyline points="59.2,865.7 60.2,865.6 61.1,865.5 62.1,865.4 63.0,865.4 64.0,865.5 64.9,865.6 65.9,865.7 66.9,865.8 67.8,865.9 68.8,865.7 69.7,865.4 70.7,865.2 71.7,865.4 72.6,865.5 73.6,865.6 74.5,865.5 75.5,865.4 76.4,865.2 77.4,865.1 78.4,864.8 79.3,864.4 80.3,864.0 81.2,863.8 82.2,863.7 83.2,863.4 84.1,863.1 85.1,862.9 86.1,862.9 87.0,862.9 88.0,863.0 89.0,863.0 89.9,862.6 90.9,862.0 91.8,861.4 92.8,861.1 93.8,862.2 94.7,864.3 95.6,866.4 96.6,867.2 97.6,866.3 98.5,863.9 99.5,860.9 100.4,858.0 101.4,856.7 102.2,857.5 103.0,860.0 103.8,862.4 104.6,863.5 105.6,863.2 106.5,862.3 107.5,861.2 108.4,860.0 109.4,858.8 110.3,857.7 111.1,856.3 112.0,855.0 112.8,854.0 113.7,853.8 114.6,856.6 115.4,861.7 116.3,864.2 117.3,862.9 118.2,860.2 119.2,857.1 120.1,854.5 121.1,853.3 121.8,855.4 122.6,859.3 123.3,861.5 124.2,859.5 125.2,855.2 126.1,850.9 127.0,849.0 127.9,850.5 128.8,853.8 129.8,857.3 130.7,858.9 131.5,857.6 132.3,854.5 133.2,851.4 134.0,850.0 134.8,851.5 135.6,854.9 136.4,858.3 137.2,859.9 138.0,858.8 138.9,856.0 139.7,852.6 140.6,849.8 141.4,848.5 142.3,849.5 143.2,851.6 144.1,854.4 145.0,856.9 145.9,858.8 146.8,859.5 147.6,859.0 148.4,858.0 149.2,856.9 150.0,856.2 150.9,855.6 151.8,855.1 152.7,854.4 153.7,853.8 154.6,853.3 155.5,853.0 156.4,853.0 157.3,853.7 158.1,854.9 159.0,855.6 159.9,853.6 160.9,849.6 161.9,845.6 162.8,843.9 163.6,844.6 164.4,846.5 165.2,848.4 166.0,849.5 166.9,849.1 167.7,847.7 168.6,845.6 169.4,843.9 170.3,843.0 171.1,843.3 172.0,844.0 172.8,844.8 173.7,845.8 174.5,846.3 175.4,845.7 176.3,843.7 177.2,841.2 178.1,838.6 179.0,836.7 179.9,835.9 180.7,836.3 181.6,836.9 182.4,837.6 183.3,838.1 184.1,838.7 185.1,836.3 186.0,830.8 186.9,825.1 187.9,822.5 188.8,822.7 189.7,822.8 190.6,822.9 191.5,822.8 192.5,817.0 193.5,807.9 194.2,802.9 194.8,800.0 195.6,800.1 196.4,800.2 197.3,800.1 198.1,800.1 199.1,800.4 200.1,801.3 201.1,801.9 201.8,796.8 202.6,786.1 203.3,777.9 204.1,773.3 204.8,769.9 205.6,768.5 206.6,771.0 207.6,775.4 208.6,777.7 209.4,775.4 210.1,771.0 210.9,767.8 211.8,766.1 212.6,764.6 213.5,763.5 214.3,763.0 215.2,763.8 216.0,765.5 216.9,766.9 217.9,767.8 218.9,768.5 219.9,769.5 220.7,771.7 221.4,775.1 222.2,778.1 223.1,779.6 223.9,780.9 224.8,783.0 225.6,787.8 226.5,788.7 227.5,789.1 228.4,789.4 229.3,789.6 230.3,790.0 231.2,790.9 232.0,793.7 232.7,798.0 233.5,800.3 234.5,800.1 235.5,799.5 236.5,798.5 237.5,797.4 238.5,796.5 239.5,796.3 240.4,797.2 241.4,799.1 242.4,800.9 243.3,801.7 244.2,801.4 245.1,800.6 245.9,799.5 246.8,798.4 247.7,797.3 248.6,796.7 249.6,797.2 250.6,798.6 251.6,799.4 252.5,798.6 253.4,797.2 254.3,795.5 255.2,794.1 256.1,793.4 257.0,793.4 257.9,793.7 258.8,794.0 259.7,794.3 260.6,794.4 261.5,794.2 262.4,793.6 263.2,792.6 264.1,791.4 265.0,790.3 265.9,789.5 266.9,788.7 267.9,788.0 268.9,787.3 269.9,787.1 270.9,786.8 271.9,786.6 272.9,786.4 273.9,786.3 274.9,786.2 275.8,786.1 276.8,786.0 277.8,785.9 278.7,785.5 279.6,785.1 280.6,784.8 281.6,785.0 282.5,785.2 283.5,785.5 284.4,785.3 285.4,785.1 286.4,785.0 287.4,785.3 288.3,785.7 289.3,786.1 290.1,786.4 291.0,786.8 291.9,787.1 292.9,787.6 293.8,788.0 294.7,788.3 295.6,788.5 296.5,788.7 297.5,788.9 298.4,789.0 299.3,789.3 300.3,789.5 301.2,790.2 302.2,790.9 303.1,791.7 304.1,792.1 305.0,792.6 306.0,793.0 306.9,793.8 307.9,794.6 308.9,795.5 309.9,795.9 310.9,796.3 311.9,796.8 312.9,797.6 313.9,798.4 314.8,799.3 315.8,800.2 316.8,801.1 317.8,802.0 318.8,802.6 319.8,803.2 320.8,803.8 321.7,804.8 322.7,805.8 323.6,806.8 324.6,807.7 325.6,808.6 326.5,809.5 327.5,810.3 328.4,811.2 329.4,812.0 330.4,812.9 331.3,813.8 332.3,814.7 333.3,815.5 334.3,816.2 335.2,816.9 336.2,817.6 337.2,818.3 338.2,819.0 339.1,819.7 340.1,820.4 341.1,821.1 342.0,821.7 343.0,822.3 344.0,822.9 344.9,823.3 345.9,823.7 346.9,824.1 347.9,824.8 348.8,825.5 349.8,826.1 350.8,826.4 351.7,826.6 352.7,826.8 353.7,827.2 354.6,827.6 355.6,828.1 356.6,828.8 357.6,829.4 358.5,830.1 359.5,830.4 360.5,830.7 361.4,831.0 362.4,831.2 363.4,831.3 364.4,831.5 365.4,831.9 366.3,832.2 367.3,832.6 368.3,833.2 369.2,833.7 370.2,834.3 371.2,834.7 372.2,835.0 373.1,835.5 374.1,835.8 375.0,836.3 376.0,836.7 376.9,837.3 377.9,838.0 378.8,838.6 379.8,839.3 380.7,840.1 381.7,840.8 382.6,841.1 383.6,841.4 384.5,841.7 385.5,842.6 386.5,843.6 387.5,844.5 388.5,845.0 389.5,845.5 390.5,846.0 391.5,846.5 392.5,847.0 393.5,847.5 394.4,848.3 395.4,849.2 396.4,850.0 397.4,850.4 398.4,850.7 399.4,851.0 400.4,851.7 401.4,852.3 402.4,852.9 403.4,853.5 404.4,854.0 405.4,854.5 406.4,854.8 407.4,855.1 408.4,855.4 409.4,856.1 410.4,856.7 411.4,857.3 412.4,857.6 413.3,857.9 414.3,858.2 415.3,858.4 416.3,858.5 417.3,858.7 418.3,859.0 419.3,859.2 420.3,859.5 421.3,859.7 422.3,859.9 423.3,860.1 424.3,860.5 425.3,860.9 426.3,861.3 427.2,861.4 428.2,861.4 429.2,861.5 430.2,861.8 431.2,862.1 432.2,862.4 433.2,862.6 434.2,862.9 435.2,863.1 436.2,863.3 437.2,863.5 438.2,863.7 439.2,863.6 440.1,863.4 441.1,863.3 442.1,863.6 443.1,863.8 444.1,864.0 445.1,864.2 446.1,864.3 447.0,864.5 448.0,864.7 448.9,864.8 449.9,865.0 450.9,865.1 451.8,865.3 452.8,865.5 453.7,865.6 454.7,865.7 455.7,865.9 456.6,866.0 457.6,866.2 458.5,866.3 459.5,866.2 460.4,866.0 461.4,865.9 462.4,865.9 463.3,865.8 464.2,865.8 465.2,865.7 466.1,865.6 467.1,865.6 468.1,865.4 469.0,865.2 470.0,865.0 471.0,864.9 472.0,864.7 473.0,864.5 474.0,864.0 475.0,863.6 476.0,863.2 477.0,863.1 478.0,863.2 478.8,863.4 479.6,863.4 480.6,862.8 481.6,861.5 482.6,859.3 483.6,856.8 484.6,854.1 485.6,851.8 486.6,849.8 487.6,848.4 488.6,848.1 489.5,848.5 490.3,849.1 491.1,849.7 492.0,850.2 492.9,850.6 493.7,850.6 494.6,849.7 495.4,847.7 496.2,845.3 497.1,842.5 497.9,839.7 498.8,836.8 499.7,833.3 500.6,829.2 501.6,825.4 502.5,822.6 503.4,821.6 504.3,823.8 505.1,829.4 506.0,836.3 506.8,843.0 507.7,847.4 508.5,849.8 509.4,851.9 510.2,853.6 511.1,855.1 511.9,856.4 512.8,857.4 513.7,858.4 514.6,859.0 515.5,859.5 516.5,859.9 517.4,860.4 518.3,860.7 519.2,860.8 520.2,860.7 521.1,860.3 522.1,859.8 523.0,859.5 524.0,859.2 525.0,858.7 525.9,857.6 526.9,856.5 527.8,854.6 528.8,852.1 529.7,849.0 530.6,846.2 531.6,843.9 532.5,843.0 533.4,844.3 534.3,847.6 535.2,851.9 536.1,855.9 537.0,858.6 537.9,860.2 538.7,861.9 539.6,863.4 540.5,864.6 541.3,865.3 542.2,865.7 543.1,865.8 544.1,865.9 545.0,865.8 545.9,865.7 546.9,865.5 547.8,865.6 548.8,865.7 549.7,865.8 550.6,865.9 551.6,866.0 552.5,866.1 553.5,865.9 554.4,865.7 555.4,865.5 556.4,865.8 557.3,866.1 558.3,866.3 559.3,866.1 560.3,865.9 561.2,865.7 562.2,865.5 563.2,865.4 564.1,865.2 565.1,865.3 566.1,865.4 567.0,865.5 568.0,865.2 569.0,864.9 569.9,864.6 570.9,864.6 571.9,864.5 572.8,864.5 573.8,864.7 574.8,864.8 575.8,864.9 576.7,864.7 577.7,864.4 578.7,864.1 579.6,864.2 580.6,864.4 581.6,864.5 582.6,864.3 583.6,864.0 584.6,863.8 585.6,863.9 586.6,864.1 587.6,864.2 588.6,864.2 589.6,864.2 590.6,864.2 591.6,864.1 592.6,863.9 593.6,863.7 594.6,863.8 595.6,863.8 596.6,863.8 597.6,863.9 598.6,863.9 599.6,864.0 600.6,864.0 601.6,864.0 602.6,864.0 603.6,863.8 604.6,863.6 605.6,863.5 606.6,863.5 607.6,863.6 608.6,863.7 609.6,863.9 610.6,864.0 611.6,864.2 612.5,864.0 613.5,863.8 614.5,863.5 615.5,863.7 616.5,863.8 617.5,863.9 618.5,863.7 619.5,863.5 620.5,863.3 621.5,863.4 622.5,863.5 623.5,863.6 624.5,863.6 625.5,863.6 626.5,863.6 627.5,863.6 628.5,863.6 629.5,863.6 630.5,863.7 631.5,863.7 632.5,863.8 633.5,863.8 634.5,863.8 635.5,863.8 636.5,863.8 637.5,863.7 638.5,863.7 639.5,863.7 640.5,863.8 641.5,863.8 642.5,863.8 643.5,863.9 644.5,863.9 645.5,863.7 646.5,863.5 647.4,863.3 648.4,863.5 649.4,863.7 650.4,863.8 651.4,863.7 652.4,863.6 653.3,863.5 654.3,863.4 655.3,863.3 656.3,863.3 657.3,863.2 658.3,863.2 659.2,863.2 660.2,863.4 661.2,863.6 662.2,863.8 663.2,863.7 664.2,863.7 665.1,863.6 666.1,863.4 667.1,863.3 668.1,863.1 669.1,863.2 670.0,863.4 671.0,863.6 672.0,863.4 673.0,863.2 674.0,863.0 675.0,863.2 675.9,863.3 676.9,863.4 677.9,863.5 678.9,863.5 679.9,863.6 680.9,863.6 681.8,863.6 682.8,863.7 683.8,863.5 684.8,863.3 685.8,863.2 686.8,863.1 687.7,863.1 688.7,863.0 689.7,863.2 690.7,863.4 691.7,863.6 692.7,863.7 693.6,863.7 694.6,863.8 695.6,863.8 696.6,863.8 697.6,863.8 698.5,863.6 699.5,863.5 700.5,863.3 701.5,863.3 702.4,863.4 703.4,863.4 704.4,863.4 705.4,863.4 706.3,863.4 707.3,863.4 708.3,863.4 709.3,863.4 710.3,863.3 711.2,863.1 712.2,862.9 713.2,863.0 714.2,863.1 715.1,863.2 716.1,863.0 717.1,862.8 718.1,862.5 719.0,862.5 720.0,862.5 721.0,862.4 721.9,862.8 722.8,863.7 723.7,864.9 724.6,866.5 725.6,868.0 726.5,869.4 727.4,870.4 728.3,870.7 729.2,870.5 730.1,869.6 731.0,868.4 731.9,867.0 732.9,865.7 733.8,864.4 734.7,863.4 735.6,862.5 736.5,862.0 737.4,862.4 738.3,863.8 739.2,865.4 740.1,866.8 741.0,867.3 741.9,866.7 742.8,865.4 743.6,863.9 744.5,862.7 745.4,862.1 746.4,862.3 747.4,862.8 748.4,863.5 749.4,864.7 750.4,865.9 751.4,867.1 752.4,867.9 753.4,868.5 754.4,868.8 755.4,868.7 756.3,868.6 757.3,868.3 758.2,868.1 759.2,867.8 760.1,867.5 761.1,867.0 762.0,866.5 763.0,866.0 764.0,865.8 764.9,865.5 765.9,865.3 766.8,865.0 767.8,864.6 768.7,864.4 769.7,864.5 770.7,864.6 771.7,864.7 772.7,864.5 773.7,864.4 774.6,864.2 775.6,864.3 776.6,864.5 777.6,864.6 778.6,864.4 779.6,864.3 780.6,864.1 781.6,864.1 782.6,864.1 783.5,864.1 784.5,864.4 785.5,864.7 786.5,865.0 787.5,864.8 788.5,864.7 789.5,864.5 790.5,864.4 791.4,864.4 792.4,864.3 793.4,864.5 794.4,864.7 795.4,865.0 796.4,865.1 797.4,865.2 798.4,865.4 799.4,865.4 800.3,865.3 801.3,865.3 802.3,865.4 803.3,865.5 804.3,865.6 805.3,865.7 806.3,865.7 807.3,865.7 808.3,865.6 809.2,865.4 810.2,865.3 811.2,865.3 812.2,865.2 813.2,865.2 814.2,865.1 815.2,865.1 816.2,865.1 817.1,865.2 818.1,865.3 819.1,865.4 820.1,865.5 821.1,865.6 822.1,865.8 823.1,865.9 824.1,866.0 825.1,866.1 826.0,865.8 827.0,865.5 828.0,865.2 829.0,865.5 830.0,865.7 831.0,866.0 832.0,866.0 832.9,866.0 833.9,866.0 834.9,865.9 835.9,865.9 836.9,865.9 837.9,865.7 838.8,865.5 839.8,865.3 840.8,865.3 841.8,865.3 842.8,865.3 843.7,865.5 844.7,865.7 845.7,865.9 846.7,865.9 847.7,865.9 848.7,865.8 849.6,865.8 850.6,865.7 851.6,865.6 852.6,865.6 853.6,865.6 854.6,865.5 855.5,865.4 856.5,865.3 857.5,865.2 858.5,865.6 859.5,865.9 860.4,866.2 861.4,866.1 862.4,866.1 863.4,866.0 864.4,866.1 865.4,866.1 866.3,866.2 867.3,866.1 868.3,866.1 869.3,866.0 870.3,865.9 871.3,865.8 872.2,865.7 873.2,865.9 874.2,866.0 875.2,866.2 876.2,866.0 877.2,865.9 878.1,865.7 879.1,865.9 880.1,866.1 881.1,866.3 882.1,866.3 883.1,866.2 884.1,866.1 885.0,866.2 886.0,866.3 887.0,866.5 888.0,866.7 889.0,866.9 890.0,867.1 890.9,867.1 891.9,867.0 892.9,866.9 893.9,867.1 894.9,867.3 895.9,867.5 896.9,867.5 897.8,867.5 898.8,867.4 899.8,867.3 900.8,867.3 901.8,867.2 902.8,867.2 903.7,867.2 904.7,867.2 905.7,867.2 906.7,867.1 907.7,867.0 908.6,867.2 909.6,867.3 910.6,867.4 911.6,867.5 912.5,867.5 913.5,867.5 914.5,867.2 915.4,866.9 916.4,866.6 917.4,866.6 918.4,866.5 919.3,866.5 920.3,866.6 921.3,866.7 922.2,866.7 923.2,866.4 924.2,866.2 925.1,865.9 926.1,866.0 927.1,866.1 928.1,866.3 929.0,866.2 930.0,866.2 931.0,866.1 932.0,866.1 933.0,866.1 933.9,866.1 934.9,866.2 935.9,866.4 936.9,866.6 937.9,866.6 938.9,866.5 939.9,866.5 940.8,866.8 941.8,867.0 942.8,867.2 943.8,867.3 944.8,867.3 945.8,867.3 946.8,867.0 947.7,866.6 948.7,866.1 949.7,865.8 950.7,865.4 951.7,865.0 952.7,864.7 953.7,864.4 954.6,864.0 955.6,863.8 956.6,863.5 957.6,863.4 958.6,863.2 959.5,863.0 960.5,862.8 961.4,862.8 962.4,862.7 963.3,862.7 964.2,862.4 965.2,862.0 966.1,861.7 967.1,861.6 968.0,861.4 969.0,861.3 969.9,861.1 970.9,861.0 971.8,860.8 972.8,860.8 973.8,860.9 974.7,861.0 975.7,861.3 976.6,861.7 977.6,862.2 978.6,862.6 979.5,863.1 980.5,863.5 981.5,863.7 982.4,863.8 983.4,863.9 984.3,864.1 985.3,864.2 986.1,864.1 986.9,863.5 987.8,862.9 988.6,862.3 989.4,862.1 990.3,862.8 991.1,864.0 992.0,864.8 992.9,865.1 993.8,864.3 994.6,863.2 995.4,862.1 996.3,861.6 997.2,862.2 998.2,863.2 999.1,863.8 1000.0,862.5 1000.9,860.0 1001.7,857.5 1002.6,856.6 1003.6,857.3 1004.5,858.6 1005.5,860.2 1006.4,861.5 1007.4,862.2 1008.3,859.6 1009.3,855.0 1010.2,852.5 1011.1,852.5 1012.0,852.6 1013.0,852.7 1013.9,852.6 1014.8,852.4 1015.7,852.3 1016.6,851.9 1017.5,850.5 1018.4,848.6 1019.2,846.6 1020.1,844.7 1021.0,843.3 1021.9,842.6 1022.8,842.8 1023.7,843.4 1024.5,844.0 1025.4,844.2 1026.3,843.3 1027.2,841.3 1028.2,838.6 1029.1,836.0 1030.0,834.0 1030.9,833.3 1031.9,833.6 1032.9,834.2 1033.9,835.1 1034.8,836.2 1035.8,837.3 1036.8,838.4 1037.8,839.6 1038.8,841.1 1039.8,843.1 1040.8,845.4 1041.7,847.9 1042.7,850.5 1043.7,853.0 1044.7,854.9 1045.5,856.5 1046.4,858.3 1047.2,860.4 1048.1,862.0 1048.9,862.9 1049.7,862.5 1050.5,861.8 1051.4,860.9 1052.2,859.9 1053.0,858.8 1053.9,857.0 1054.8,854.7 1055.8,851.8 1056.7,848.7 1057.6,845.3 1058.5,842.2 1059.3,839.7 1060.2,837.4 1061.0,835.1 1061.9,832.7 1062.7,830.3 1063.6,826.8 1064.5,823.1 1065.4,821.5 1066.3,822.2 1067.2,823.9 1068.0,825.9 1068.9,828.3 1069.6,832.3 1070.3,837.9 1071.0,840.7 1071.8,840.0 1072.7,838.0 1073.6,836.1 1074.4,835.1 1075.3,837.9 1076.2,844.0 1077.0,850.0 1077.9,852.6 1078.7,852.3 1079.5,851.6 1080.4,851.2 1081.2,850.9 1082.0,850.9 1082.8,851.1 1083.7,851.7 1084.5,852.4 1085.4,852.7 1086.2,852.7 1087.0,851.4 1087.8,848.9 1088.7,845.8 1089.5,843.2 1090.3,842.2 1091.2,843.2 1092.2,845.0 1093.1,845.9 1094.1,845.7 1095.1,845.1 1096.1,843.8 1097.0,842.2 1098.0,840.4 1099.0,838.9 1100.0,837.5 1100.8,835.6 1101.7,832.9 1102.6,830.5 1103.4,829.5 1104.3,831.7 1105.3,835.6 1106.2,837.8 1107.1,837.3 1108.0,836.3 1109.0,835.0 1109.9,833.9 1110.8,833.2 1111.7,832.9 1112.7,833.5 1113.7,835.0 1114.6,836.7 1115.6,838.2 1116.6,838.7 1117.4,837.9 1118.3,836.5 1119.2,835.1 1120.0,834.5 1120.9,835.0 1121.8,836.3 1122.7,838.0 1123.5,840.1 1124.4,842.3 1125.3,844.5 1126.2,846.6 1127.1,848.9 1128.1,851.5 1129.0,854.0 1129.9,856.4 1130.9,858.7 1131.8,860.3 1132.6,861.7 1133.4,863.0 1134.3,864.3 1135.1,865.3 1135.9,865.7 1136.7,865.7 1137.5,865.5 1138.4,865.2 1139.2,864.7 1140.0,864.5 1141.0,864.5 1141.9,864.8 1142.9,865.3 1143.9,865.8 1144.9,866.5 1145.8,867.2 1146.8,867.5 1147.8,867.3 1148.7,866.8 1149.7,866.2 1150.6,865.7 1151.6,865.1 1152.5,864.6 1153.5,864.3 1154.5,864.0 1155.4,863.8 1156.4,863.5 1157.4,863.2 1158.4,862.8 1159.3,862.5 1160.3,862.2 1161.2,861.7 1162.1,861.3 1163.0,860.8 1163.9,860.3 1164.8,859.7 1165.7,859.1 1166.6,858.6 1167.5,858.0 1168.4,857.6 1169.3,857.4 1170.2,857.2 1171.1,857.1 1172.0,856.9 1172.9,856.9 1173.8,856.9 1174.8,856.5 1175.7,855.7 1176.7,854.5 1177.7,853.3 1178.7,852.0 1179.6,850.9 1180.6,850.1 1181.5,849.6 1182.4,849.1 1183.3,848.7 1184.2,848.5 1185.1,848.2 1186.0,847.8 1186.9,846.7 1187.8,845.2 1188.7,843.5 1189.6,841.9 1190.5,840.3 1191.4,838.9 1192.4,838.0 1193.3,837.2 1194.3,836.4 1195.3,835.5 1196.3,834.5 1197.2,833.4 1198.2,832.0 1199.1,830.4 1200.0,828.7 1200.9,827.0 1201.8,825.2 1202.7,823.4 1203.6,821.6 1204.6,819.6 1205.5,817.4 1206.5,815.2 1207.5,812.8 1208.5,810.5 1209.4,807.9 1210.4,805.5 1211.4,803.3 1212.3,801.6 1213.3,799.9 1214.2,798.3 1215.2,796.4 1216.1,794.2 1217.1,791.8 1218.0,789.2 1218.9,786.0 1219.8,782.4 1220.7,778.6 1221.6,774.9 1222.5,771.7 1223.4,768.7 1224.3,765.8 1225.2,763.1 1226.2,760.7 1227.1,758.6 1228.0,757.0 1228.9,755.7 1229.9,754.7 1230.8,753.8 1231.8,752.7 1232.7,751.2 1233.6,748.5 1234.6,744.7 1235.5,740.2 1236.5,735.4 1237.4,731.2 1238.2,728.1 1239.0,725.2 1239.9,722.0 1240.7,718.3 1241.5,713.8 1242.3,706.7 1243.2,698.5 1244.1,690.6 1245.0,682.8 1245.9,675.4 1246.8,668.5 1247.7,661.5 1248.7,654.8 1249.6,648.7 1250.5,643.9 1251.5,640.0 1252.4,636.6 1253.4,633.6 1254.3,630.8 1255.3,627.8 1256.2,624.2 1257.1,620.4 1258.0,617.1 1258.9,615.4 1259.8,614.5 1260.7,613.8 1261.6,613.1 1262.5,612.8 1263.5,613.3 1264.4,614.6 1265.4,616.1 1266.3,617.4 1267.3,617.9 1268.2,617.3 1269.1,615.9 1270.0,613.9 1270.9,611.5 1271.9,606.4 1272.9,598.5 1273.9,589.8 1274.7,583.0 1275.5,575.4 1276.3,566.1 1277.2,547.8 1278.1,532.5 1279.1,527.1 1280.1,522.8 1281.0,519.9 1282.0,518.1 1283.0,517.6 1283.9,518.3 1284.8,520.3 1285.7,523.0 1286.6,526.3 1287.5,530.1 1288.4,534.8 1289.3,539.7 1290.2,544.7 1291.1,549.8 1291.9,555.1 1292.8,560.3 1293.7,564.8 1294.5,568.8 1295.3,573.0 1296.2,577.8 1297.0,583.0 1297.8,588.9 1298.6,595.8 1299.4,604.7 1300.2,615.2 1301.0,625.8 1301.8,635.8 1302.6,645.8 1303.4,655.9 1304.2,665.8 1305.0,675.7 1305.8,686.6 1306.5,697.9 1307.2,710.1 1307.9,722.4 1308.6,734.2 1309.6,748.2 1310.6,760.8 1311.4,770.3 1312.2,779.3 1313.0,788.0 1313.8,796.6 1314.6,804.9 1315.4,812.1 1316.3,819.3 1317.2,825.7 1318.2,831.5 1319.1,836.8 1320.0,841.9 1320.9,846.7 1321.8,850.8 1322.7,854.3 1323.6,857.6 1324.5,861.4 1325.4,864.3 1326.3,865.6 1327.2,864.3 1328.1,861.2 1329.0,857.5 1329.9,854.3 1330.9,851.0 1331.9,848.0 1332.9,846.9 1333.9,848.4 1334.9,851.5 1335.9,854.4 1336.7,856.8 1337.5,859.5 1338.4,862.3 1339.2,864.7 1340.0,866.4 1340.9,867.7 1341.8,868.8 1342.6,869.8 1343.5,870.3 1344.4,870.4 1345.3,869.9 1346.2,868.4 1347.2,866.5 1348.1,864.6 1349.0,863.4 1349.9,862.9 1350.8,862.8 1351.7,862.5 1352.6,862.1 1353.5,861.8 1354.4,861.8 1355.3,861.4 1356.2,860.2 1357.1,858.2 1358.0,856.0 1358.9,853.9 1359.8,852.1 1360.7,850.9 1361.6,850.4 1362.5,850.7 1363.4,851.7 1364.3,853.1 1365.2,855.0 1366.1,856.7 1367.0,858.0 1367.9,859.2 1368.8,860.4 1369.7,861.5 1370.6,862.4 1371.5,863.1 1372.4,863.5 1373.3,863.8 1374.2,861.0 1375.1,854.1 1376.0,845.6 1376.9,838.5 1377.8,832.6 1378.7,826.6 1379.6,821.2 1380.5,817.4 1381.4,815.8 1382.3,817.5 1383.2,821.5 1384.1,825.6 1385.0,827.6 1385.9,827.7 1386.8,827.9 1387.8,828.0 1388.7,828.2 1389.6,827.9 1390.5,830.1 1391.4,835.6 1392.3,842.3 1393.2,847.6 1394.1,851.3 1395.0,854.6 1395.9,857.5 1396.8,860.0 1397.7,862.3 1398.6,863.9 1399.5,865.1 1400.4,865.9 1401.3,866.5 1402.2,866.9 1403.1,867.2 1404.0,867.2 1404.9,866.9 1405.8,866.9 1406.7,866.8 1407.6,866.6 1408.5,866.3 1409.4,866.1 1410.3,866.0 1411.2,865.9 1412.1,866.2 1413.0,866.6 1413.9,867.2 1414.8,867.7 1415.7,867.9 1416.7,867.6 1417.6,866.6 1418.6,865.2 1419.5,863.8 1420.5,862.5 1421.4,861.5 1422.4,861.3 1423.2,861.8 1424.1,863.0 1425.0,864.3 1425.8,865.8 1426.7,867.0 1427.5,867.6 1428.4,867.9 1429.3,868.1 1430.2,868.4 1431.1,868.6 1432.0,868.7 1432.9,868.9 1433.8,869.0 1434.7,868.7 1435.6,868.0 1436.5,867.1 1437.4,866.1 1438.3,864.7 1439.2,863.3 1440.1,861.7 1441.0,859.8 1441.9,856.9 1442.8,853.3 1443.7,849.5 1444.6,845.8 1445.5,842.6 1446.4,839.1 1447.3,835.2 1448.2,831.4 1449.1,828.1 1450.0,825.5 1450.9,823.7 1451.8,823.2 1452.7,823.8 1453.6,825.0 1454.5,826.2 1455.4,827.5 1456.3,828.6 1457.2,829.7 1458.1,830.0 1459.0,829.9 1459.9,829.5 1460.8,829.0 1461.8,828.3 1462.7,827.6 1463.6,826.9 1464.5,826.2 1465.4,825.1 1466.3,823.9 1467.2,822.8 1468.1,821.7 1469.0,820.5 1469.9,819.3 1470.8,818.1 1471.7,816.7 1472.6,815.2 1473.5,813.3 1474.4,811.1 1475.3,808.6 1476.2,805.7 1477.1,802.5 1478.0,799.2 1478.9,795.5 1479.8,791.6 1480.7,787.5 1481.6,783.0 1482.5,778.2 1483.4,772.9 1484.3,766.9 1485.2,760.7 1486.1,754.3 1487.0,748.0 1487.9,741.2 1488.8,733.6 1489.7,725.4 1490.6,717.3 1491.5,709.7 1492.4,703.1 1493.2,697.1 1494.1,691.0 1494.9,686.1 1495.7,684.0 1496.7,685.6 1497.7,690.0 1498.6,696.1 1499.6,702.8 1500.5,712.8 1501.4,726.5 1502.4,739.9 1503.3,748.6 1504.2,753.5 1505.1,757.3 1506.0,759.0 1506.9,757.4 1507.8,753.2 1508.7,747.0 1509.6,739.6 1510.5,725.8 1511.4,704.9 1512.3,685.1 1513.2,669.0 1514.1,654.1 1515.0,639.8 1516.0,621.5 1517.0,603.9 1518.0,596.1 1518.8,598.3 1519.7,603.9 1520.5,611.9 1521.4,621.2 1522.2,630.8 1523.1,639.5 1524.0,648.2 1524.9,657.5 1525.8,666.9 1526.7,676.2 1527.6,685.3 1528.5,694.6 1529.4,703.8 1530.3,712.6 1531.2,720.9 1532.1,728.4 1533.0,735.5 1533.9,742.4 1534.8,749.5 1535.7,757.2 1536.6,765.8 1537.5,775.1 1538.4,784.4 1539.3,793.6 1540.2,804.7 1541.1,815.7 1542.0,820.6 1543.0,817.8 1543.9,813.2" fill="none" stroke="#ff3b40" stroke-width="5.4" stroke-linejoin="round" stroke-linecap="round"/>
<polyline points="59.2,625.6 60.2,625.4 61.1,625.2 62.1,625.0 63.0,625.1 64.0,625.3 64.9,625.5 65.9,625.3 66.9,625.0 67.8,624.8 68.8,625.1 69.7,625.3 70.7,625.6 71.7,625.5 72.6,625.4 73.6,625.3 74.5,625.2 75.5,625.1 76.4,624.9 77.4,624.9 78.4,624.6 79.3,624.0 80.3,623.3 81.2,622.8 82.2,622.6 83.2,622.7 84.1,622.9 85.1,623.2 86.1,623.4 87.0,623.5 88.0,623.6 88.9,623.4 89.8,622.8 90.7,622.1 91.6,621.1 92.5,620.3 93.4,619.9 94.2,621.1 95.0,623.6 95.8,626.1 96.6,627.3 97.6,626.2 98.5,623.2 99.5,619.5 100.4,616.3 101.4,614.9 102.2,616.4 103.0,619.3 103.8,622.2 104.6,623.3 105.6,623.0 106.5,622.2 107.5,621.3 108.4,620.3 109.4,619.1 110.3,617.8 111.1,615.8 112.0,613.7 112.8,611.7 113.7,610.8 114.6,613.8 115.4,619.8 116.3,623.0 117.3,621.8 118.2,619.0 119.2,615.5 120.1,612.7 121.1,611.5 121.8,614.1 122.6,618.8 123.3,621.0 124.2,618.7 125.2,613.9 126.1,609.5 127.0,607.7 127.9,609.5 128.8,613.1 129.8,616.7 130.7,618.3 131.5,616.6 132.3,613.0 133.2,609.5 134.0,607.9 134.8,609.8 135.6,614.0 136.4,618.4 137.2,620.6 138.0,619.5 138.9,616.3 139.7,612.5 140.6,609.3 141.4,607.8 142.3,608.7 143.2,611.0 144.1,614.2 145.0,617.3 145.9,619.8 146.8,621.0 147.6,620.3 148.4,618.4 149.2,615.9 150.0,614.3 150.9,613.5 151.8,613.0 152.7,612.6 153.7,612.3 154.6,612.2 155.5,612.2 156.4,612.3 157.3,613.4 158.1,615.5 159.0,616.7 159.9,614.1 160.9,608.8 161.9,603.5 162.8,601.2 163.6,602.4 164.4,605.0 165.2,607.6 166.0,608.7 166.9,608.0 167.7,606.5 168.6,604.6 169.4,603.1 170.3,602.4 171.2,603.2 172.2,605.0 173.1,606.8 174.0,607.6 175.0,607.0 176.0,605.3 176.9,603.1 177.9,601.0 178.9,599.4 179.9,598.8 180.8,599.8 181.8,601.7 182.7,603.6 183.6,604.4 184.5,602.9 185.3,599.1 186.2,594.4 187.0,590.2 187.9,588.3 188.9,588.7 189.9,589.7 190.8,590.7 191.8,591.1 192.6,586.1 193.5,576.5 194.3,570.6 195.1,569.5 195.8,569.1 196.7,570.1 197.6,572.2 198.5,574.8 199.4,576.9 200.3,577.7 201.1,571.8 201.8,560.5 202.6,553.5 203.4,551.7 204.3,550.4 205.2,549.5 206.0,549.2 206.9,552.3 207.7,557.9 208.6,560.9 209.6,558.4 210.6,553.2 211.6,549.6 212.6,548.3 213.5,547.3 214.4,546.7 215.4,546.4 216.3,546.6 217.3,547.2 218.2,548.1 219.2,549.1 219.9,550.1 220.7,551.4 221.4,552.8 222.4,555.1 223.4,557.7 224.4,560.4 225.2,562.5 226.0,563.9 226.9,564.1 227.7,564.1 228.6,564.1 229.5,564.0 230.3,564.1 231.2,564.2 232.2,566.4 233.2,570.3 234.2,572.3 235.1,572.0 236.0,571.1 236.8,569.8 237.7,568.7 238.6,567.9 239.5,567.7 240.3,568.3 241.2,569.9 242.1,571.6 242.9,572.4 243.9,571.8 244.9,570.7 245.8,569.4 246.8,568.4 247.8,568.1 248.8,568.3 249.7,568.8 250.7,569.3 251.6,569.7 252.5,569.0 253.4,567.4 254.4,565.7 255.3,564.9 256.2,565.0 257.1,565.4 258.1,565.8 259.0,566.1 259.9,566.4 260.8,566.2 261.7,565.3 262.6,564.0 263.5,562.9 264.4,562.4 265.3,562.2 266.2,562.0 267.1,561.7 268.0,561.8 268.9,561.8 269.8,561.5 270.8,560.9 271.8,560.2 272.7,559.8 273.6,559.6 274.6,559.4 275.5,559.2 276.4,559.4 277.4,559.6 278.3,559.8 279.3,559.8 280.2,559.8 281.2,559.8 282.2,559.9 283.2,560.0 284.2,560.1 285.2,560.5 286.2,560.8 287.1,560.9 288.1,560.5 289.1,560.2 290.0,560.0 291.0,560.4 291.9,560.8 292.9,561.0 293.8,561.5 294.7,562.0 295.6,562.4 296.5,562.8 297.5,563.1 298.4,563.5 299.3,563.9 300.3,564.3 301.2,564.7 302.2,565.1 303.1,565.6 304.1,566.1 305.0,566.5 306.0,566.9 306.9,567.3 307.9,567.6 308.9,568.0 309.9,568.3 310.9,568.9 311.9,569.5 312.9,570.0 313.9,570.5 314.8,571.0 315.8,571.5 316.8,572.2 317.8,573.0 318.8,573.8 319.8,574.4 320.8,575.1 321.7,575.7 322.7,576.5 323.6,577.2 324.6,578.0 325.6,579.1 326.5,580.1 327.5,581.2 328.4,581.7 329.4,582.2 330.4,582.7 331.3,583.5 332.3,584.3 333.3,585.1 334.3,586.0 335.2,586.9 336.2,587.8 337.2,588.4 338.2,589.0 339.1,589.6 340.1,590.1 341.1,590.6 342.0,591.0 343.0,591.6 344.0,592.2 344.9,592.8 345.9,593.1 346.9,593.3 347.9,593.5 348.8,593.9 349.8,594.3 350.8,594.6 351.7,595.1 352.7,595.6 353.7,596.0 354.6,596.2 355.6,596.4 356.6,596.6 357.6,597.2 358.5,597.7 359.5,598.2 360.5,598.5 361.4,598.9 362.4,599.2 363.4,599.5 364.4,599.7 365.4,599.9 366.3,600.2 367.3,600.6 368.3,600.9 369.2,600.9 370.2,601.0 371.2,601.1 372.2,601.6 373.1,602.0 374.1,602.6 375.0,603.1 376.0,603.7 376.9,604.3 377.9,604.7 378.8,605.2 379.8,605.6 380.7,606.0 381.7,606.4 382.6,606.7 383.6,607.2 384.5,607.7 385.5,608.2 386.5,608.5 387.5,608.8 388.5,609.2 389.5,609.7 390.5,610.2 391.5,610.8 392.5,611.2 393.5,611.7 394.4,612.1 395.4,612.9 396.4,613.7 397.4,614.4 398.4,614.7 399.4,614.9 400.4,615.1 401.4,615.7 402.4,616.3 403.4,616.9 404.4,616.9 405.4,616.8 406.4,616.8 407.4,617.3 408.4,617.9 409.4,618.4 410.4,618.6 411.4,618.7 412.4,618.9 413.3,618.9 414.3,619.0 415.3,619.0 416.3,619.4 417.3,619.8 418.3,620.2 419.3,620.4 420.3,620.6 421.3,620.8 422.3,621.0 423.3,621.1 424.3,621.3 425.3,621.4 426.3,621.5 427.2,621.7 428.2,621.8 429.2,621.9 430.2,622.1 431.2,622.2 432.2,622.4 433.2,622.5 434.2,622.5 435.2,622.5 436.2,622.5 437.2,622.8 438.2,623.1 439.2,623.4 440.1,623.3 441.1,623.2 442.1,623.2 443.1,623.2 444.1,623.2 445.1,623.3 446.1,623.6 447.0,624.0 448.0,624.3 448.9,624.2 449.9,624.0 450.9,623.9 451.8,624.1 452.8,624.2 453.7,624.4 454.7,624.5 455.7,624.7 456.6,624.8 457.6,624.9 458.5,625.0 459.5,625.0 460.4,624.8 461.4,624.6 462.4,624.4 463.3,624.3 464.2,624.1 465.2,624.0 466.1,624.1 467.1,624.2 468.1,624.3 469.0,624.2 470.0,624.1 471.0,624.0 472.0,623.9 473.0,623.7 474.0,623.6 475.0,623.2 476.0,622.8 477.0,622.4 478.0,622.2 479.0,622.0 479.9,621.4 480.9,620.4 481.9,619.3 482.8,618.1 483.8,616.9 484.7,615.8 485.7,614.9 486.7,614.0 487.6,613.5 488.6,613.3 489.5,613.4 490.3,613.7 491.1,614.1 492.0,614.5 492.9,614.8 493.7,614.9 494.6,614.6 495.5,613.7 496.5,612.3 497.4,610.4 498.3,608.3 499.2,605.4 500.1,601.3 501.0,596.5 502.0,591.7 502.9,587.3 503.8,584.2 504.7,583.1 505.6,585.4 506.4,591.0 507.3,598.0 508.1,604.3 509.0,608.2 509.9,610.2 510.7,612.1 511.6,613.8 512.4,615.1 513.2,616.4 514.1,617.5 515.0,618.6 515.9,619.3 516.8,620.0 517.8,620.6 518.7,620.8 519.6,620.9 520.5,620.9 521.5,620.9 522.4,620.9 523.4,620.8 524.4,620.6 525.3,620.4 526.3,620.0 527.2,619.5 528.2,618.9 529.1,617.2 529.9,613.7 530.8,609.4 531.6,605.1 532.4,601.8 533.3,600.4 534.2,602.2 535.1,606.8 536.1,611.9 537.0,615.7 537.9,618.0 538.7,620.1 539.6,622.1 540.5,623.8 541.3,624.9 542.2,625.4 543.1,625.3 544.1,625.3 545.0,625.3 545.9,625.5 546.9,625.7 547.8,625.9 548.8,625.9 549.7,625.9 550.6,625.9 551.6,625.8 552.5,625.7 553.5,625.6 554.5,625.8 555.5,625.9 556.5,626.1 557.5,625.9 558.5,625.6 559.5,625.4 560.5,625.4 561.5,625.4 562.5,625.5 563.5,625.6 564.5,625.8 565.5,625.9 566.5,625.9 567.5,625.9 568.5,625.9 569.5,625.8 570.5,625.7 571.5,625.5 572.5,625.8 573.4,626.1 574.4,626.4 575.4,626.3 576.4,626.2 577.4,626.1 578.4,626.2 579.4,626.2 580.4,626.2 581.4,626.1 582.4,626.1 583.4,626.0 584.4,626.1 585.4,626.2 586.4,626.3 587.4,626.1 588.4,626.0 589.4,625.8 590.4,625.9 591.4,626.0 592.4,626.1 593.4,626.2 594.4,626.3 595.4,626.5 596.3,626.5 597.3,626.5 598.3,626.5 599.3,626.4 600.3,626.4 601.3,626.4 602.2,626.3 603.2,626.1 604.2,626.0 605.2,626.1 606.2,626.2 607.2,626.3 608.1,626.5 609.1,626.8 610.1,627.0 611.1,627.0 612.1,627.0 613.1,627.0 614.0,627.0 615.0,626.9 616.0,626.9 617.0,626.7 618.0,626.4 619.0,626.2 619.9,626.2 620.9,626.2 621.9,626.2 622.9,626.3 623.9,626.3 624.8,626.4 625.8,626.6 626.8,626.8 627.8,627.0 628.8,626.8 629.8,626.6 630.7,626.4 631.7,626.5 632.7,626.5 633.7,626.5 634.7,626.5 635.7,626.5 636.6,626.5 637.6,626.7 638.6,626.9 639.6,627.0 640.6,627.0 641.6,626.9 642.5,626.8 643.5,626.9 644.5,627.0 645.5,627.2 646.5,626.9 647.4,626.6 648.4,626.4 649.4,626.4 650.4,626.4 651.4,626.3 652.4,626.6 653.3,626.9 654.3,627.1 655.3,626.9 656.3,626.6 657.3,626.4 658.3,626.6 659.2,626.8 660.2,627.0 661.2,626.9 662.2,626.9 663.2,626.8 664.2,626.7 665.1,626.6 666.1,626.4 667.1,626.4 668.1,626.4 669.1,626.4 670.0,626.6 671.0,626.7 672.0,626.9 673.0,626.6 674.0,626.4 675.0,626.1 675.9,626.4 676.9,626.7 677.9,627.0 678.9,626.7 679.9,626.4 680.9,626.1 681.8,626.1 682.8,626.1 683.8,626.2 684.8,626.3 685.8,626.5 686.8,626.6 687.7,626.4 688.7,626.2 689.7,626.0 690.7,626.3 691.7,626.6 692.7,626.9 693.6,626.6 694.6,626.4 695.6,626.2 696.6,626.1 697.5,625.9 698.5,625.8 699.5,625.8 700.5,625.8 701.4,625.8 702.4,625.9 703.4,626.0 704.3,626.1 705.3,626.1 706.3,626.2 707.3,626.2 708.2,625.9 709.2,625.7 710.2,625.4 711.1,625.3 712.1,625.3 713.1,625.2 714.1,625.2 715.0,625.1 716.0,625.1 716.9,624.8 717.8,624.3 718.7,623.7 719.7,623.1 720.6,622.5 721.5,622.1 722.4,621.8 723.4,621.9 724.3,622.3 725.2,623.2 726.2,624.1 727.1,625.1 728.1,626.0 729.0,626.8 730.0,627.2 730.9,627.0 731.9,626.7 732.8,626.2 733.7,625.5 734.6,624.8 735.6,624.3 736.5,624.3 737.4,625.2 738.3,627.1 739.2,628.8 740.1,630.2 741.0,630.6 741.9,630.1 742.8,628.6 743.6,626.9 744.5,625.2 745.4,624.6 746.4,624.7 747.3,624.8 748.3,625.1 749.3,625.5 750.2,626.0 751.2,626.6 752.2,627.3 753.1,627.6 754.1,627.9 755.1,628.0 756.0,628.5 757.0,628.9 758.0,629.1 759.0,628.9 759.9,628.6 760.9,628.3 761.9,627.9 762.9,627.5 763.8,627.1 764.8,626.8 765.8,626.5 766.8,626.2 767.7,625.8 768.7,625.6 769.7,625.4 770.7,625.6 771.7,625.8 772.7,626.1 773.7,626.0 774.7,625.9 775.6,625.8 776.6,625.8 777.6,625.8 778.6,625.9 779.6,625.7 780.6,625.6 781.6,625.5 782.6,625.6 783.6,625.8 784.6,626.0 785.5,625.9 786.5,625.8 787.5,625.6 788.5,625.8 789.5,626.0 790.5,626.2 791.5,626.0 792.5,625.8 793.5,625.6 794.5,625.6 795.4,625.7 796.4,625.8 797.4,625.8 798.4,625.9 799.4,625.9 800.4,626.0 801.4,626.1 802.4,626.2 803.4,626.4 804.4,626.6 805.3,626.8 806.3,626.5 807.3,626.3 808.3,626.0 809.3,626.2 810.3,626.4 811.3,626.7 812.3,626.5 813.3,626.4 814.3,626.2 815.2,626.4 816.2,626.5 817.2,626.7 818.2,626.7 819.2,626.7 820.2,626.7 821.2,626.7 822.2,626.7 823.2,626.7 824.2,626.8 825.1,626.9 826.1,627.1 827.1,627.1 828.1,627.1 829.1,627.0 830.1,627.0 831.1,627.0 832.1,627.0 833.1,627.2 834.1,627.3 835.0,627.5 836.0,627.4 837.0,627.3 838.0,627.2 839.0,627.5 840.0,627.7 841.0,628.0 842.0,627.8 843.0,627.6 844.0,627.3 845.0,627.6 846.0,627.9 847.0,628.2 848.0,627.9 849.0,627.7 850.0,627.4 851.0,627.7 851.9,628.0 852.9,628.3 853.9,628.0 854.9,627.8 855.9,627.5 856.9,627.5 857.9,627.5 858.9,627.5 859.9,627.6 860.9,627.7 861.9,627.7 862.9,627.9 863.9,628.2 864.9,628.4 865.9,628.3 866.9,628.2 867.9,628.0 868.9,628.1 869.9,628.1 870.9,628.2 871.9,628.3 872.9,628.5 873.8,628.6 874.8,628.4 875.8,628.3 876.8,628.1 877.8,628.3 878.8,628.5 879.8,628.7 880.8,628.6 881.8,628.6 882.8,628.6 883.8,628.5 884.8,628.5 885.8,628.4 886.8,628.7 887.8,629.0 888.8,629.2 889.8,629.1 890.8,628.9 891.8,628.7 892.8,628.7 893.8,628.7 894.8,628.7 895.7,628.9 896.7,629.0 897.7,629.1 898.7,629.2 899.7,629.3 900.7,629.3 901.7,629.1 902.7,628.9 903.7,628.7 904.7,628.7 905.7,628.7 906.7,628.6 907.7,628.9 908.6,629.1 909.6,629.3 910.6,629.0 911.6,628.7 912.5,628.4 913.5,628.2 914.5,628.1 915.4,627.9 916.4,627.7 917.4,627.4 918.4,627.1 919.3,627.0 920.3,626.9 921.3,626.8 922.2,626.4 923.2,626.1 924.2,625.7 925.1,625.6 926.1,625.6 927.1,625.5 928.1,625.3 929.0,625.1 930.0,624.9 931.0,624.7 932.0,624.5 933.0,624.2 933.9,624.3 934.9,624.4 935.9,624.5 936.9,624.5 937.9,624.5 938.9,624.6 939.9,624.4 940.8,624.2 941.8,624.1 942.8,624.0 943.8,623.9 944.8,623.8 945.8,623.6 946.8,623.4 947.7,623.3 948.7,623.4 949.7,623.6 950.7,623.8 951.7,623.7 952.7,623.6 953.7,623.4 954.6,623.4 955.6,623.4 956.6,623.3 957.6,623.3 958.6,623.4 959.6,623.4 960.6,623.4 961.6,623.4 962.5,623.5 963.5,623.5 964.5,623.5 965.5,623.5 966.5,623.5 967.5,623.5 968.5,623.5 969.5,623.6 970.5,623.7 971.5,623.8 972.4,623.7 973.4,623.6 974.4,623.5 975.4,623.6 976.4,623.7 977.4,623.8 978.4,623.9 979.4,624.0 980.4,624.1 981.3,624.2 982.3,624.4 983.3,624.6 984.3,624.4 985.3,624.3 986.3,623.8 987.2,623.2 988.2,622.5 989.1,621.8 990.1,621.7 991.0,622.3 991.9,623.6 992.7,624.7 993.6,625.2 994.4,624.9 995.2,624.2 996.1,623.4 996.9,622.7 997.7,622.4 998.4,624.1 999.1,625.7 999.9,624.8 1000.7,622.5 1001.6,619.9 1002.4,617.5 1003.2,616.4 1004.0,616.9 1004.9,618.5 1005.7,620.3 1006.6,621.8 1007.4,622.4 1008.3,620.1 1009.3,615.8 1010.2,613.5 1011.0,613.6 1011.8,614.0 1012.7,614.5 1013.5,615.0 1014.3,615.3 1015.1,615.1 1015.9,614.5 1016.8,613.7 1017.6,612.6 1018.4,611.5 1019.2,610.2 1020.1,609.1 1020.9,607.9 1021.8,607.1 1022.6,606.5 1023.4,606.7 1024.2,607.4 1025.1,608.5 1025.9,609.4 1026.7,609.7 1027.5,608.5 1028.4,605.8 1029.2,602.5 1030.1,600.2 1030.9,599.4 1031.7,599.9 1032.5,600.3 1033.4,600.9 1034.2,601.6 1035.0,602.4 1035.8,603.1 1036.7,603.7 1037.5,604.4 1038.4,605.2 1039.2,606.3 1040.0,607.8 1040.8,610.1 1041.7,612.7 1042.5,615.3 1043.3,617.3 1044.2,619.3 1045.2,621.5 1046.1,623.5 1047.0,625.2 1048.0,626.0 1048.9,626.1 1049.7,625.6 1050.5,625.0 1051.4,624.1 1052.2,623.1 1053.0,621.6 1053.9,619.3 1054.8,615.8 1055.7,611.9 1056.5,608.0 1057.4,604.5 1058.3,601.9 1059.2,600.9 1060.2,602.2 1061.2,605.6 1062.1,609.5 1063.1,612.8 1064.1,614.2 1064.9,613.9 1065.7,613.0 1066.6,611.7 1067.4,610.4 1068.2,609.3 1069.1,608.3 1070.0,607.4 1070.8,606.4 1071.7,605.4 1072.6,600.9 1073.5,594.0 1074.4,590.5 1075.3,591.9 1076.3,595.2 1077.2,599.6 1077.9,606.2 1078.6,615.0 1079.3,619.7 1080.1,620.2 1080.9,620.5 1081.8,620.5 1082.6,620.5 1083.4,620.7 1084.3,622.1 1085.3,624.1 1086.2,625.1 1087.0,624.8 1087.8,623.7 1088.7,622.3 1089.5,620.7 1090.3,620.0 1091.2,620.6 1092.0,622.4 1092.9,624.2 1093.8,625.1 1094.8,624.5 1095.7,623.2 1096.7,621.5 1097.6,620.0 1098.6,618.5 1099.6,616.6 1100.5,614.1 1101.5,611.7 1102.4,609.9 1103.4,609.0 1104.3,610.2 1105.2,613.1 1106.0,616.4 1106.9,618.5 1107.9,619.4 1108.9,620.1 1109.9,620.7 1110.8,621.1 1111.8,621.8 1112.8,622.3 1113.8,622.6 1114.7,622.3 1115.6,621.5 1116.5,620.5 1117.3,619.4 1118.2,618.4 1119.1,617.6 1120.0,617.3 1121.0,617.4 1122.0,617.8 1123.0,618.5 1124.0,619.4 1125.0,620.2 1126.0,620.7 1127.0,621.5 1128.0,622.4 1129.0,623.4 1130.0,624.3 1130.8,624.8 1131.6,624.9 1132.5,625.0 1133.3,625.0 1134.1,625.3 1135.1,625.3 1136.1,625.2 1137.1,624.6 1138.1,624.0 1139.1,623.5 1140.1,623.3 1141.1,623.3 1142.1,623.3 1143.1,623.6 1144.1,624.0 1145.1,624.3 1146.1,624.2 1147.1,624.0 1148.0,623.6 1149.0,623.5 1149.9,623.1 1150.8,622.7 1151.8,621.9 1152.7,621.3 1153.6,620.7 1154.6,620.3 1155.5,619.8 1156.5,619.4 1157.4,619.0 1158.4,618.5 1159.3,618.0 1160.3,617.6 1161.2,617.1 1162.2,616.4 1163.2,615.3 1164.2,614.1 1165.2,612.9 1166.2,612.2 1167.2,611.5 1168.2,610.8 1169.2,609.9 1170.1,609.1 1170.9,608.5 1171.8,608.0 1172.7,607.6 1173.6,607.1 1174.4,607.0 1175.3,606.7 1176.3,606.3 1177.3,605.2 1178.3,604.0 1179.3,602.7 1180.3,601.8 1181.3,600.9 1182.3,600.1 1183.3,599.3 1184.3,598.4 1185.3,597.4 1186.2,596.1 1187.0,594.7 1187.8,593.2 1188.7,592.0 1189.6,590.8 1190.4,589.7 1191.2,588.6 1192.0,587.4 1192.9,586.3 1193.7,585.4 1194.5,584.7 1195.3,584.2 1196.0,583.7 1196.8,583.0 1197.7,581.8 1198.5,580.4 1199.4,578.6 1200.2,576.8 1201.1,574.9 1202.0,573.2 1202.8,571.5 1203.7,569.4 1204.6,567.4 1205.4,565.4 1206.3,564.1 1207.2,562.9 1208.1,561.8 1208.9,560.4 1209.8,559.1 1210.7,557.7 1211.6,556.0 1212.5,554.4 1213.3,552.7 1214.2,551.4 1215.1,550.0 1215.9,548.5 1216.8,546.7 1217.7,544.7 1218.6,542.4 1219.4,539.8 1220.3,537.1 1221.2,534.4 1222.1,532.4 1222.9,530.6 1223.8,528.7 1224.6,526.7 1225.5,525.0 1226.3,523.7 1227.2,522.5 1228.1,521.5 1229.0,520.7 1229.9,519.8 1230.8,518.8 1231.7,517.6 1232.6,516.5 1233.4,515.1 1234.3,513.3 1235.1,511.1 1236.0,508.7 1236.8,506.4 1237.6,503.9 1238.4,501.3 1239.2,498.5 1240.0,495.7 1240.8,492.9 1241.6,490.1 1242.4,486.8 1243.2,482.9 1243.8,478.7 1244.4,474.2 1245.4,467.7 1246.4,461.4 1247.3,455.7 1248.3,450.6 1249.3,446.7 1250.3,443.8 1251.2,441.4 1252.2,439.3 1253.1,437.2 1254.1,434.9 1255.1,432.0 1256.1,428.6 1257.1,425.2 1258.1,422.2 1259.1,419.5 1260.1,418.0 1261.1,417.3 1262.1,417.1 1263.1,417.0 1264.1,417.0 1265.1,416.9 1266.1,416.7 1267.1,416.2 1268.0,415.2 1269.0,413.9 1269.9,412.2 1270.9,410.1 1271.9,407.0 1272.8,402.5 1273.8,397.5 1274.7,392.0 1275.7,386.6 1276.6,380.3 1277.5,373.2 1278.4,366.5 1279.3,362.2 1280.2,359.2 1281.2,356.6 1282.1,354.3 1283.0,353.3 1283.9,353.8 1284.8,355.9 1285.7,358.5 1286.6,361.2 1287.5,363.9 1288.4,367.2 1289.3,370.4 1290.2,373.1 1291.1,375.0 1292.0,376.7 1292.9,378.2 1293.8,380.2 1294.7,382.9 1295.6,386.5 1296.5,390.8 1297.4,395.9 1298.2,402.1 1299.0,410.1 1299.8,417.8 1300.7,425.6 1301.6,433.2 1302.5,440.8 1303.4,448.2 1304.3,455.7 1305.2,463.3 1306.1,470.9 1307.0,478.2 1307.9,485.3 1308.8,492.1 1309.7,498.6 1310.6,504.7 1311.5,510.6 1312.4,516.2 1313.3,521.6 1314.2,526.7 1315.1,531.6 1316.1,536.3 1317.0,540.6 1317.9,544.6 1318.8,548.3 1319.7,552.1 1320.6,555.6 1321.5,558.9 1322.5,562.9 1323.5,567.1 1324.5,570.3 1325.5,571.6 1326.4,571.4 1327.3,570.9 1328.2,570.1 1329.1,569.2 1330.0,568.3 1330.9,566.8 1331.9,565.0 1332.8,564.0 1333.7,564.8 1334.5,566.6 1335.3,568.9 1336.2,571.1 1337.2,574.1 1338.2,577.8 1339.1,581.9 1340.1,586.0 1341.1,589.4 1341.9,591.7 1342.7,593.8 1343.6,595.7 1344.4,597.5 1345.2,599.2 1346.1,601.3 1347.0,603.4 1348.0,605.4 1348.9,607.3 1349.8,608.7 1350.7,609.8 1351.5,610.6 1352.4,611.5 1353.2,612.2 1354.1,612.7 1354.9,613.0 1355.8,612.8 1356.7,612.1 1357.6,611.3 1358.4,610.4 1359.3,609.5 1360.2,608.7 1361.1,608.3 1362.1,608.5 1363.0,609.6 1364.0,611.1 1364.9,612.7 1365.9,614.6 1366.8,616.7 1367.8,619.2 1368.7,621.2 1369.6,623.1 1370.6,624.4 1371.5,624.9 1372.3,624.5 1373.1,623.7 1374.0,622.7 1374.8,621.3 1375.6,619.6 1376.5,611.6 1377.5,598.7 1378.4,590.8 1379.3,588.9 1380.2,587.6 1381.1,587.1 1382.0,588.6 1382.8,592.0 1383.7,595.5 1384.6,597.3 1385.4,597.2 1386.2,597.0 1387.1,596.5 1387.9,596.0 1388.7,595.7 1389.6,597.7 1390.5,602.1 1391.3,607.4 1392.2,611.6 1393.0,614.7 1393.8,617.8 1394.7,620.3 1395.5,622.2 1396.3,623.2 1397.2,624.4 1398.2,625.4 1399.1,626.3 1400.0,626.9 1401.0,627.3 1401.9,627.5 1402.9,627.3 1403.8,626.6 1404.8,625.8 1405.7,624.7 1406.7,623.7 1407.6,622.7 1408.5,622.1 1409.5,621.9 1410.4,622.1 1411.3,622.8 1412.2,623.8 1413.0,624.8 1413.9,625.5 1414.8,626.0 1415.7,626.0 1416.7,625.9 1417.7,624.9 1418.7,623.6 1419.6,621.7 1420.6,620.0 1421.6,618.7 1422.6,618.1 1423.5,618.5 1424.4,619.4 1425.3,620.9 1426.3,622.4 1427.2,623.6 1428.1,623.8 1429.0,623.6 1429.9,623.4 1430.9,623.5 1431.8,623.5 1432.7,623.6 1433.7,623.5 1434.6,623.5 1435.5,623.4 1436.4,623.2 1437.3,623.0 1438.3,622.7 1439.2,622.8 1440.1,622.5 1441.0,621.6 1442.0,619.9 1442.9,618.0 1443.8,616.0 1444.7,614.0 1445.6,612.0 1446.5,609.6 1447.4,607.3 1448.2,605.2 1449.1,603.3 1450.0,602.0 1450.9,601.4 1451.8,601.9 1452.7,603.5 1453.6,605.6 1454.4,607.9 1455.3,609.7 1456.2,611.0 1457.1,611.5 1458.0,611.5 1458.9,611.4 1459.9,611.2 1460.8,610.8 1461.7,610.4 1462.6,610.0 1463.6,609.7 1464.5,609.6 1465.4,609.5 1466.4,609.4 1467.3,609.5 1468.3,609.8 1469.3,610.4 1470.2,611.1 1471.2,611.8 1472.2,612.1 1473.2,612.3 1474.1,612.4 1475.1,612.7 1476.1,612.5 1477.1,611.6 1478.1,610.1 1479.0,608.1 1480.0,606.0 1481.0,603.8 1482.0,601.7 1483.0,599.6 1484.0,597.2 1485.0,594.7 1485.9,592.1 1486.9,589.5 1487.9,586.7 1488.9,583.7 1489.8,580.1 1490.7,575.4 1491.6,570.3 1492.4,565.3 1493.3,561.0 1494.2,558.0 1495.1,556.7 1496.0,558.5 1496.8,563.3 1497.7,569.8 1498.6,576.4 1499.5,583.7 1500.3,592.3 1501.2,600.6 1502.1,607.2 1502.9,612.3 1503.8,617.1 1504.7,620.7 1505.5,621.8 1506.3,620.7 1507.2,618.0 1508.0,614.4 1508.9,609.9 1509.7,604.8 1510.5,596.6 1511.3,584.0 1512.2,569.4 1513.0,554.5 1513.8,542.1 1514.6,530.5 1515.5,518.9 1516.3,508.6 1517.2,501.1 1518.0,498.1 1518.8,499.0 1519.6,501.6 1520.5,505.4 1521.3,509.7 1522.1,514.1 1523.0,520.7 1524.0,528.5 1524.9,535.0 1525.7,539.0 1526.5,542.3 1527.4,545.3 1528.2,548.2 1529.0,551.5 1529.8,555.6 1530.7,560.3 1531.5,565.3 1532.4,570.1 1533.2,574.1 1534.0,577.4 1534.8,580.3 1535.7,583.2 1536.5,586.4 1537.3,590.4 1538.1,597.3 1538.9,606.7 1539.8,616.4 1540.6,623.9 1541.4,626.9 1542.1,625.9 1542.8,622.8 1543.5,618.3 1544.5,600.2" fill="none" stroke="#0066dd" stroke-width="5.4" stroke-linejoin="round" stroke-linecap="round"/>
<polyline points="58.8,432.3 59.7,432.1 60.7,432.0 61.6,431.8 62.6,431.9 63.5,431.9 64.5,432.0 65.4,431.7 66.4,431.4 67.3,431.1 68.3,431.0 69.2,431.0 70.1,430.9 71.1,431.0 72.0,431.0 73.0,431.0 73.9,431.2 74.9,431.4 75.8,431.5 76.8,431.6 77.7,431.8 78.6,431.9 79.6,432.2 80.5,432.6 81.5,433.0 82.4,433.0 83.4,432.9 84.3,432.9 85.2,432.6 86.2,432.0 87.1,431.3 88.0,430.7 89.0,430.2 89.9,430.1 90.9,430.1 91.8,430.0 92.8,430.0 93.7,430.1 94.6,431.3 95.6,433.3 96.5,434.1 97.4,433.1 98.4,430.9 99.3,428.6 100.3,426.7 101.2,425.9 102.0,426.9 102.8,428.9 103.7,430.9 104.5,431.9 105.3,431.5 106.2,430.5 107.0,429.2 107.8,428.4 108.7,428.0 109.5,427.9 110.4,427.9 111.2,427.8 112.1,427.4 112.8,425.2 113.5,423.1 114.4,425.2 115.4,429.0 116.3,431.1 117.2,430.4 118.2,428.6 119.1,426.5 120.1,424.7 121.0,424.0 121.9,425.5 122.9,428.0 123.8,429.4 124.8,428.2 125.7,425.5 126.6,422.8 127.6,421.5 128.4,422.5 129.2,424.9 130.1,427.3 130.9,428.5 131.8,426.8 132.8,423.5 133.7,421.8 134.5,423.3 135.3,426.5 136.2,429.7 137.0,431.1 137.9,429.8 138.9,426.3 139.9,422.8 140.8,421.0 141.8,421.9 142.7,423.8 143.7,426.2 144.6,428.3 145.6,430.0 146.5,430.7 147.4,430.3 148.4,429.6 149.3,428.8 150.3,428.4 151.2,427.9 152.1,427.4 153.1,426.6 154.0,425.9 155.0,425.4 155.9,425.4 156.8,426.4 157.8,428.3 158.7,429.2 159.6,428.2 160.6,426.1 161.5,423.6 162.5,421.5 163.4,420.6 164.2,422.1 165.0,424.9 165.8,426.5 166.6,425.2 167.3,422.9 168.1,421.7 169.1,421.8 170.0,422.4 170.9,423.2 171.9,424.1 172.9,424.8 173.8,425.1 174.7,425.0 175.7,424.4 176.6,423.6 177.6,422.1 178.5,420.7 179.4,419.4 180.4,418.7 181.3,418.4 182.1,419.7 182.9,421.9 183.7,423.0 184.6,421.3 185.6,417.8 186.5,414.3 187.4,412.7 188.3,413.1 189.1,413.9 190.0,414.8 190.8,415.4 191.7,415.5 192.5,413.3 193.3,408.7 194.2,404.1 195.0,402.0 195.9,402.5 196.7,403.7 197.6,405.3 198.5,406.7 199.3,407.7 200.2,408.1 201.0,406.1 201.9,401.5 202.8,396.6 203.6,393.5 204.5,392.2 205.3,391.3 206.2,391.0 207.1,393.2 207.9,397.5 208.8,400.0 209.7,399.6 210.5,398.4 211.4,396.6 212.3,394.7 213.2,392.8 214.0,391.5 214.9,391.0 215.8,391.0 216.6,391.0 217.5,391.2 218.4,391.4 219.2,392.0 220.1,392.7 221.0,394.5 221.9,397.0 222.9,400.0 223.8,402.4 224.7,403.6 225.6,403.8 226.6,403.9 227.5,404.0 228.4,404.1 229.4,404.1 230.3,404.3 231.3,404.4 232.2,404.6 233.0,405.9 233.7,408.5 234.5,409.7 235.4,409.3 236.3,408.5 237.2,407.6 238.1,407.0 239.0,406.9 239.9,407.7 240.9,409.0 241.9,410.4 242.8,411.1 243.7,410.9 244.7,410.7 245.6,410.4 246.6,410.5 247.5,410.6 248.4,410.7 249.4,410.3 250.3,409.9 251.2,409.3 252.1,408.8 252.9,408.1 253.8,407.4 254.7,406.4 255.6,405.9 256.5,405.9 257.4,406.9 258.3,408.0 259.2,409.0 260.1,409.3 261.1,409.4 262.1,409.3 263.1,408.9 264.0,408.4 265.0,407.9 266.0,407.7 267.0,407.6 268.0,407.4 269.0,407.0 269.9,406.7 270.9,406.4 271.9,406.2 272.9,406.0 273.8,405.9 274.8,405.9 275.7,405.8 276.6,405.8 277.6,406.0 278.5,406.3 279.5,406.6 280.4,406.6 281.3,406.6 282.3,406.7 283.2,407.0 284.2,407.3 285.1,407.6 286.1,407.7 287.1,407.8 288.0,407.7 289.0,407.5 290.0,407.2 291.0,407.0 292.0,407.1 293.0,407.1 294.0,407.2 295.0,407.5 296.0,407.8 297.0,408.1 298.0,408.1 299.0,408.0 299.9,408.0 300.9,408.3 301.9,408.5 302.9,408.8 303.9,409.0 304.9,409.3 305.9,409.6 306.9,409.7 307.9,409.8 308.9,409.9 309.9,410.1 310.9,410.4 311.9,410.7 312.9,410.9 313.9,411.1 314.9,411.3 315.9,411.7 316.9,412.1 317.8,412.4 318.8,412.6 319.8,412.7 320.8,412.8 321.8,413.0 322.8,413.2 323.8,413.4 324.8,413.9 325.8,414.4 326.8,414.8 327.8,414.7 328.8,414.7 329.8,414.6 330.8,415.0 331.8,415.4 332.8,415.7 333.8,416.0 334.8,416.2 335.7,416.4 336.7,416.5 337.7,416.6 338.7,416.7 339.7,417.0 340.7,417.3 341.7,417.6 342.7,417.8 343.7,418.0 344.7,418.1 345.7,418.2 346.7,418.2 347.7,418.3 348.7,418.3 349.7,418.4 350.7,418.5 351.7,418.5 352.6,418.6 353.6,418.6 354.6,419.0 355.6,419.4 356.6,419.8 357.6,419.9 358.6,420.1 359.6,420.3 360.6,420.2 361.6,420.1 362.6,420.0 363.6,420.2 364.6,420.4 365.6,420.6 366.6,420.9 367.6,421.2 368.6,421.5 369.6,421.8 370.6,422.0 371.5,422.3 372.5,422.5 373.5,422.7 374.5,423.0 375.5,423.2 376.5,423.3 377.5,423.5 378.5,423.7 379.5,423.8 380.5,424.0 381.5,424.1 382.5,424.3 383.5,424.4 384.5,424.4 385.5,424.4 386.5,424.3 387.5,424.6 388.4,425.0 389.4,425.3 390.4,425.5 391.4,425.8 392.4,426.0 393.4,426.0 394.4,426.0 395.4,426.1 396.4,426.2 397.4,426.4 398.4,426.5 399.4,426.7 400.4,427.0 401.4,427.2 402.4,427.4 403.4,427.7 404.4,427.9 405.4,427.9 406.4,427.9 407.3,427.9 408.3,428.3 409.3,428.7 410.3,429.1 411.3,429.3 412.3,429.4 413.3,429.5 414.3,429.5 415.3,429.5 416.3,429.4 417.3,429.6 418.3,429.7 419.3,429.8 420.3,429.9 421.3,430.0 422.3,430.1 423.3,430.2 424.2,430.4 425.2,430.6 426.2,430.9 427.2,431.1 428.2,431.4 429.2,431.3 430.2,431.2 431.2,431.1 432.2,431.4 433.2,431.6 434.2,431.9 435.2,431.8 436.2,431.6 437.2,431.5 438.2,431.6 439.2,431.7 440.2,431.8 441.2,432.0 442.2,432.2 443.2,432.4 444.2,432.4 445.1,432.3 446.1,432.3 447.1,432.4 448.1,432.4 449.1,432.5 450.1,432.8 451.1,433.0 452.1,433.2 453.1,433.2 454.1,433.1 455.1,433.0 456.1,433.2 457.1,433.3 458.1,433.4 459.1,433.2 460.1,433.0 461.1,432.8 462.1,432.7 463.1,432.7 464.0,432.6 465.0,432.7 466.0,432.8 467.0,432.8 468.0,432.6 469.0,432.4 470.0,432.1 471.0,431.8 472.0,431.5 473.0,431.2 474.0,431.0 475.0,430.9 476.0,430.6 477.0,430.2 478.0,429.7 479.0,429.1 479.9,428.3 480.9,427.4 481.8,426.3 482.8,425.3 483.7,424.2 484.7,423.1 485.6,421.4 486.4,419.3 487.3,417.1 488.1,415.7 489.0,415.1 489.9,415.2 490.9,415.5 491.8,415.9 492.8,416.1 493.7,416.3 494.6,415.3 495.6,412.9 496.6,409.7 497.5,406.3 498.4,402.2 499.3,396.3 500.2,389.6 501.2,382.9 502.1,377.3 503.0,373.3 503.9,371.8 504.8,373.8 505.8,378.8 506.8,385.0 507.7,390.9 508.7,397.2 509.6,404.6 510.6,411.1 511.6,415.1 512.6,417.0 513.6,418.9 514.6,420.5 515.6,421.9 516.5,423.3 517.5,424.5 518.5,425.5 519.5,425.7 520.5,425.6 521.5,425.4 522.4,425.2 523.4,424.9 524.4,424.5 525.3,424.1 526.3,423.5 527.2,422.9 528.2,422.1 529.1,419.7 530.1,415.0 531.0,409.3 531.9,403.6 532.9,399.4 533.8,397.8 534.6,399.8 535.4,404.5 536.2,409.9 537.0,414.2 537.9,417.7 538.7,421.3 539.6,424.6 540.5,427.5 541.3,429.7 542.2,430.7 543.1,431.0 544.1,431.0 545.0,431.1 545.9,431.1 546.9,431.3 547.8,431.5 548.8,431.6 549.7,431.5 550.6,431.3 551.6,431.2 552.5,431.4 553.5,431.6 554.5,431.8 555.5,431.6 556.5,431.5 557.5,431.3 558.5,431.5 559.5,431.7 560.5,431.9 561.5,431.9 562.5,432.0 563.5,432.0 564.5,432.0 565.5,432.0 566.5,431.9 567.5,432.2 568.5,432.5 569.5,432.8 570.5,432.9 571.5,433.0 572.5,433.0 573.4,432.9 574.4,432.7 575.4,432.6 576.4,432.8 577.4,433.0 578.4,433.2 579.4,433.3 580.4,433.4 581.4,433.5 582.4,433.4 583.4,433.3 584.4,433.2 585.4,433.2 586.4,433.2 587.4,433.1 588.4,433.2 589.4,433.4 590.4,433.5 591.4,433.4 592.4,433.3 593.4,433.2 594.4,433.3 595.4,433.3 596.3,433.4 597.3,433.4 598.3,433.4 599.3,433.4 600.3,433.3 601.3,433.2 602.2,433.1 603.2,433.2 604.2,433.3 605.2,433.4 606.2,433.3 607.2,433.3 608.1,433.2 609.1,433.2 610.1,433.2 611.1,433.3 612.1,433.1 613.1,433.0 614.0,432.9 615.0,433.0 616.0,433.2 617.0,433.3 618.0,433.1 619.0,432.9 619.9,432.7 620.9,432.8 621.9,432.9 622.9,433.0 623.9,433.0 624.8,433.0 625.8,433.0 626.8,432.8 627.8,432.6 628.8,432.4 629.8,432.7 630.7,432.9 631.7,433.2 632.7,433.1 633.7,433.0 634.7,432.9 635.7,432.7 636.6,432.6 637.6,432.4 638.6,432.7 639.6,432.9 640.6,433.2 641.6,433.1 642.5,433.1 643.5,433.0 644.5,433.1 645.5,433.1 646.5,433.2 647.4,433.1 648.4,433.1 649.4,433.0 650.4,433.0 651.4,432.9 652.4,432.9 653.3,433.0 654.3,433.1 655.3,433.2 656.3,433.1 657.3,433.0 658.3,432.9 659.2,432.9 660.2,433.0 661.2,433.0 662.2,433.0 663.2,433.0 664.2,433.1 665.1,433.1 666.1,433.1 667.1,433.1 668.1,433.4 669.1,433.6 670.0,433.8 671.0,433.7 672.0,433.6 673.0,433.5 674.0,433.5 675.0,433.6 675.9,433.6 676.9,433.6 677.9,433.6 678.9,433.6 679.9,433.6 680.9,433.6 681.8,433.6 682.8,433.6 683.8,433.6 684.8,433.6 685.8,433.9 686.8,434.1 687.7,434.4 688.7,434.3 689.7,434.3 690.7,434.2 691.7,434.1 692.7,434.1 693.6,434.0 694.6,434.0 695.6,434.1 696.6,434.1 697.6,434.0 698.6,433.9 699.5,433.8 700.5,433.4 701.5,432.9 702.5,432.4 703.5,432.0 704.5,431.7 705.4,431.3 706.4,431.1 707.4,430.9 708.4,430.7 709.4,430.4 710.3,430.2 711.3,429.9 712.3,429.8 713.2,429.7 714.2,429.5 715.2,429.3 716.2,429.1 717.1,429.0 718.1,428.8 719.1,428.7 720.0,428.6 721.0,428.5 721.9,428.5 722.9,428.8 723.8,429.0 724.7,429.4 725.6,429.7 726.6,429.8 727.5,429.8 728.5,429.5 729.4,429.4 730.4,429.0 731.4,428.6 732.3,427.9 733.3,427.3 734.2,426.9 735.2,426.6 736.1,426.7 736.9,427.1 737.8,427.8 738.6,428.5 739.4,429.1 740.3,429.3 741.1,429.0 742.0,428.3 742.8,427.2 743.7,426.0 744.5,425.0 745.4,424.8 746.4,425.0 747.3,425.4 748.3,426.0 749.3,426.7 750.2,427.5 751.2,428.0 752.2,428.5 753.1,428.9 754.1,429.5 755.1,429.9 756.0,430.2 757.0,430.6 758.0,430.9 758.9,431.1 759.9,431.1 760.8,431.1 761.8,431.1 762.7,430.8 763.7,430.5 764.6,430.2 765.6,430.4 766.6,430.6 767.5,430.8 768.5,430.8 769.4,430.8 770.4,430.8 771.3,430.9 772.3,430.9 773.3,431.0 774.2,431.3 775.2,431.7 776.1,432.1 777.1,432.6 778.1,433.0 779.0,433.3 780.0,433.4 781.0,433.4 782.0,433.4 783.0,433.3 784.0,433.3 784.9,433.2 785.9,432.9 786.9,432.6 787.9,432.4 788.9,432.3 789.9,432.2 790.9,432.1 791.9,432.0 792.9,432.0 793.8,432.0 794.8,432.1 795.8,432.3 796.8,432.4 797.8,432.3 798.8,432.1 799.8,432.0 800.7,432.0 801.7,432.1 802.7,432.1 803.7,432.3 804.7,432.4 805.7,432.5 806.6,432.2 807.6,431.9 808.6,431.7 809.6,431.7 810.6,431.8 811.5,431.8 812.5,431.8 813.5,431.9 814.5,431.9 815.5,432.2 816.4,432.4 817.4,432.6 818.4,432.6 819.4,432.5 820.4,432.5 821.4,432.3 822.3,432.1 823.3,431.9 824.3,431.9 825.3,431.9 826.3,431.9 827.2,432.0 828.2,432.0 829.2,432.1 830.2,432.3 831.2,432.6 832.1,432.8 833.1,432.7 834.1,432.5 835.1,432.4 836.1,432.5 837.1,432.7 838.0,432.9 839.0,432.9 840.0,432.9 841.0,432.9 842.0,432.9 843.0,432.9 844.0,433.0 845.0,432.8 846.0,432.7 847.0,432.6 848.0,432.5 849.0,432.4 850.0,432.3 851.0,432.4 851.9,432.5 852.9,432.6 853.9,432.7 854.9,432.8 855.9,433.0 856.9,433.0 857.9,433.0 858.9,433.0 859.9,432.9 860.9,432.7 861.9,432.5 862.9,432.5 863.9,432.6 864.9,432.6 865.9,432.7 866.9,432.8 867.9,432.9 868.9,432.8 869.9,432.7 870.9,432.5 871.9,432.5 872.9,432.4 873.8,432.4 874.8,432.4 875.8,432.4 876.8,432.4 877.8,432.5 878.8,432.6 879.8,432.6 880.8,432.6 881.8,432.5 882.8,432.4 883.8,432.6 884.8,432.8 885.8,432.9 886.8,432.9 887.8,432.9 888.8,432.8 889.8,432.9 890.8,433.0 891.8,433.1 892.8,433.1 893.8,433.0 894.8,432.9 895.7,432.8 896.7,432.7 897.7,432.6 898.7,432.6 899.7,432.5 900.7,432.4 901.7,432.4 902.7,432.4 903.7,432.4 904.7,432.7 905.7,432.9 906.7,433.1 907.7,433.0 908.6,432.9 909.6,432.8 910.6,432.6 911.6,432.4 912.5,432.2 913.5,432.3 914.5,432.4 915.4,432.5 916.4,432.6 917.4,432.7 918.4,432.7 919.3,432.7 920.3,432.7 921.3,432.7 922.2,432.6 923.2,432.6 924.2,432.6 925.1,432.6 926.1,432.6 927.1,432.6 928.1,432.5 929.0,432.3 930.0,432.2 931.0,432.2 932.0,432.3 933.0,432.4 933.9,432.2 934.9,432.0 935.9,431.8 936.9,432.0 937.9,432.2 938.9,432.4 939.9,432.4 940.8,432.3 941.8,432.3 942.8,432.2 943.8,432.1 944.8,432.0 945.8,432.0 946.8,432.1 947.7,432.1 948.7,432.3 949.7,432.4 950.7,432.6 951.7,432.5 952.7,432.3 953.7,432.2 954.6,432.2 955.6,432.3 956.6,432.3 957.6,432.4 958.6,432.4 959.6,432.4 960.6,432.6 961.6,432.7 962.5,432.9 963.5,432.7 964.5,432.6 965.5,432.4 966.5,432.4 967.5,432.4 968.5,432.4 969.5,432.5 970.5,432.6 971.5,432.6 972.4,432.9 973.4,433.1 974.4,433.3 975.4,433.1 976.4,432.9 977.4,432.7 978.4,432.9 979.4,433.1 980.4,433.3 981.3,433.3 982.3,433.3 983.3,433.3 984.3,433.3 985.3,433.2 986.2,433.0 987.1,432.5 988.0,431.9 989.0,431.3 989.9,430.9 990.8,430.8 991.7,431.6 992.7,432.9 993.6,433.5 994.4,433.1 995.2,432.4 996.1,431.5 996.9,430.6 997.7,430.0 998.6,429.4 999.5,428.9 1000.5,428.4 1001.4,427.9 1002.3,427.5 1003.2,427.6 1004.1,428.2 1005.0,429.3 1005.8,430.3 1006.7,430.7 1007.7,430.2 1008.6,429.1 1009.6,427.7 1010.5,426.4 1011.5,425.6 1012.5,425.2 1013.5,424.9 1014.5,424.6 1015.4,424.4 1016.4,424.3 1017.4,424.1 1018.4,424.0 1019.2,423.7 1020.1,423.4 1020.9,423.1 1021.8,422.9 1022.6,422.7 1023.4,423.0 1024.2,423.7 1025.1,424.6 1025.9,425.3 1026.7,425.5 1027.6,424.8 1028.5,422.9 1029.3,421.0 1030.2,420.2 1031.2,420.7 1032.1,421.8 1033.1,422.6 1034.0,423.3 1035.0,423.5 1035.9,423.4 1036.8,423.3 1037.6,423.2 1038.5,422.9 1039.4,423.0 1040.3,423.5 1041.2,424.6 1042.0,425.9 1042.9,427.2 1043.8,428.2 1044.7,429.2 1045.6,430.4 1046.6,432.1 1047.5,433.1 1048.5,433.1 1049.5,432.3 1050.5,431.1 1051.4,429.7 1052.4,428.3 1053.4,426.9 1054.4,425.4 1055.3,423.8 1056.2,421.9 1057.2,419.8 1058.1,417.4 1059.0,414.6 1059.9,411.3 1060.8,406.2 1061.7,398.9 1062.5,391.6 1063.4,386.4 1064.3,382.6 1065.2,379.4 1066.1,377.8 1067.0,378.9 1068.0,382.0 1068.9,386.4 1069.6,392.9 1070.3,401.7 1071.0,407.1 1071.8,408.8 1072.6,409.9 1073.5,410.6 1074.3,411.3 1075.1,412.5 1076.0,415.1 1076.8,418.6 1077.7,421.7 1078.6,423.0 1079.6,422.9 1080.5,422.7 1081.5,422.8 1082.4,422.8 1083.4,423.0 1084.3,423.8 1085.3,425.5 1086.2,426.4 1087.0,425.5 1087.8,423.8 1088.7,421.8 1089.5,420.4 1090.3,420.0 1091.2,421.2 1092.2,422.9 1093.1,423.7 1094.1,423.4 1095.1,423.4 1096.1,423.2 1097.0,423.0 1098.0,422.6 1099.0,422.1 1100.0,421.5 1100.8,419.6 1101.6,416.5 1102.5,412.9 1103.3,410.2 1104.1,409.1 1105.0,409.6 1105.8,411.0 1106.7,412.4 1107.6,413.1 1108.4,412.8 1109.2,412.0 1110.1,411.2 1110.9,410.6 1111.7,410.5 1112.7,411.5 1113.7,413.5 1114.6,415.9 1115.6,417.8 1116.6,418.8 1117.4,418.2 1118.2,417.0 1119.1,415.5 1119.9,414.3 1120.7,413.8 1121.6,414.3 1122.5,415.6 1123.5,417.4 1124.4,419.1 1125.3,420.8 1126.2,422.0 1127.1,423.4 1128.0,424.8 1129.0,426.2 1129.9,427.1 1130.8,428.0 1131.7,428.7 1132.7,429.6 1133.6,430.2 1134.5,430.5 1135.4,430.3 1136.3,429.8 1137.2,429.2 1138.2,428.4 1139.1,427.7 1140.0,427.4 1140.9,427.8 1141.7,428.7 1142.6,429.7 1143.5,430.8 1144.4,431.7 1145.2,432.4 1146.1,432.5 1147.0,432.1 1148.0,431.4 1148.9,430.8 1149.9,430.4 1150.8,430.2 1151.7,430.3 1152.6,430.7 1153.5,431.2 1154.4,432.0 1155.3,432.6 1156.2,433.0 1157.1,432.8 1157.9,432.4 1158.8,431.8 1159.7,431.2 1160.6,430.6 1161.4,430.1 1162.3,429.5 1163.3,429.0 1164.2,428.5 1165.2,428.3 1166.1,428.0 1167.1,427.6 1168.1,427.0 1169.0,426.2 1170.0,425.2 1170.9,424.4 1171.9,423.7 1172.8,423.2 1173.8,423.3 1174.6,423.6 1175.4,424.0 1176.3,423.9 1177.1,423.9 1177.9,423.8 1178.8,423.4 1179.7,422.3 1180.6,421.0 1181.5,419.6 1182.4,418.4 1183.3,417.7 1184.2,417.7 1185.1,417.8 1186.0,418.0 1186.9,417.5 1187.8,417.1 1188.7,416.5 1189.7,415.8 1190.6,414.2 1191.6,412.3 1192.5,410.5 1193.5,409.6 1194.4,409.4 1195.4,409.4 1196.3,409.3 1197.3,409.3 1198.2,409.1 1199.1,408.5 1199.9,407.2 1200.8,405.4 1201.7,403.5 1202.6,401.6 1203.4,399.9 1204.3,398.8 1205.2,398.1 1206.2,397.6 1207.1,397.1 1208.1,396.6 1209.0,396.1 1209.9,395.2 1210.8,394.1 1211.7,392.5 1212.6,390.7 1213.5,388.9 1214.4,387.6 1215.3,386.3 1216.2,385.0 1217.1,383.8 1218.0,382.6 1218.9,381.5 1219.8,380.2 1220.7,379.0 1221.6,377.9 1222.5,376.7 1223.4,375.6 1224.3,374.6 1225.2,373.5 1226.2,372.4 1227.1,371.4 1228.0,370.8 1228.9,370.3 1229.8,369.8 1230.7,369.2 1231.6,368.5 1232.5,367.7 1233.4,366.5 1234.4,364.9 1235.4,362.9 1236.4,360.9 1237.4,358.7 1238.3,356.4 1239.1,353.9 1240.0,351.9 1241.0,350.4 1242.0,349.0 1242.9,347.2 1243.8,344.8 1244.7,341.9 1245.7,338.8 1246.6,335.6 1247.5,332.8 1248.4,330.3 1249.3,328.2 1250.3,326.8 1251.2,325.6 1252.2,324.5 1253.1,323.0 1254.1,321.6 1255.1,319.9 1256.1,318.3 1257.1,316.7 1258.1,315.3 1259.1,314.1 1260.1,313.5 1261.0,313.2 1262.0,312.9 1262.9,312.8 1263.8,312.6 1264.8,312.5 1265.7,312.4 1266.6,312.3 1267.6,312.2 1268.5,312.0 1269.4,311.6 1270.3,311.1 1271.2,310.4 1272.1,309.5 1273.0,307.6 1273.9,304.7 1274.8,301.2 1275.7,297.6 1276.6,293.2 1277.5,288.0 1278.4,283.1 1279.3,279.8 1280.2,277.7 1281.2,275.7 1282.1,274.2 1283.0,273.5 1283.9,273.7 1284.8,274.4 1285.7,275.3 1286.6,276.5 1287.6,277.9 1288.5,279.4 1289.5,280.8 1290.4,282.1 1291.4,283.3 1292.4,284.7 1293.3,285.9 1294.3,287.2 1295.2,288.2 1296.2,289.6 1297.1,291.5 1298.0,294.2 1298.9,297.4 1299.8,300.8 1300.8,305.2 1301.7,310.5 1302.7,316.2 1303.6,321.9 1304.6,327.2 1305.6,332.2 1306.5,337.2 1307.5,342.1 1308.4,346.9 1309.4,351.4 1310.4,356.0 1311.3,360.6 1312.3,365.5 1313.2,369.9 1314.2,373.6 1315.1,376.3 1316.0,378.7 1316.9,380.9 1317.8,383.1 1318.8,385.1 1319.7,386.9 1320.6,388.7 1321.5,390.4 1322.5,392.3 1323.4,394.1 1324.4,395.8 1325.3,396.9 1326.3,397.5 1327.2,397.1 1328.2,396.1 1329.1,395.0 1330.0,394.2 1330.9,393.8 1331.9,393.5 1332.8,393.3 1333.7,394.0 1334.6,395.8 1335.5,397.7 1336.4,399.4 1337.4,401.7 1338.3,404.1 1339.2,406.3 1340.2,408.2 1341.1,409.8 1342.0,411.1 1342.9,412.2 1343.8,413.3 1344.8,414.3 1345.7,415.3 1346.6,416.3 1347.5,417.5 1348.4,418.7 1349.3,419.9 1350.3,421.0 1351.2,421.7 1352.1,422.0 1353.0,422.0 1353.9,422.2 1354.8,422.3 1355.8,422.4 1356.7,422.7 1357.6,423.0 1358.6,423.1 1359.6,422.8 1360.5,422.4 1361.5,422.0 1362.5,421.7 1363.3,422.0 1364.1,422.9 1365.0,424.2 1365.8,425.5 1366.6,426.7 1367.6,428.0 1368.6,429.5 1369.5,430.9 1370.5,431.8 1371.5,432.2 1372.3,431.9 1373.1,431.4 1374.0,430.5 1374.8,429.2 1375.6,427.3 1376.5,423.2 1377.3,416.7 1378.2,410.7 1379.1,407.6 1380.0,406.9 1380.9,406.6 1381.8,406.5 1382.7,407.4 1383.5,408.9 1384.4,410.4 1385.3,410.9 1386.1,410.9 1386.9,410.6 1387.8,410.3 1388.6,410.0 1389.4,409.9 1390.3,411.4 1391.2,414.9 1392.0,418.8 1392.9,421.4 1393.8,422.7 1394.6,423.6 1395.5,424.4 1396.3,425.4 1397.3,426.7 1398.3,428.1 1399.3,429.3 1400.2,430.4 1401.2,431.3 1402.2,432.0 1403.2,432.3 1404.2,432.0 1405.2,430.8 1406.2,429.2 1407.2,427.5 1408.2,425.8 1409.2,424.5 1410.2,424.0 1411.1,424.8 1412.0,426.5 1413.0,428.6 1413.9,430.3 1414.8,431.6 1415.7,432.1 1416.6,431.6 1417.5,430.3 1418.5,428.5 1419.4,426.7 1420.3,425.3 1421.2,424.7 1422.2,425.1 1423.2,426.2 1424.2,427.9 1425.1,429.9 1426.1,431.8 1427.1,433.1 1428.1,433.9 1429.0,434.2 1429.9,434.5 1430.8,434.3 1431.8,434.2 1432.7,434.0 1433.6,434.1 1434.5,434.2 1435.5,434.5 1436.4,434.9 1437.3,435.3 1438.3,435.7 1439.2,435.6 1440.2,435.0 1441.2,433.8 1442.2,432.4 1443.1,430.7 1444.1,429.0 1445.1,427.1 1446.1,425.6 1447.0,424.2 1447.9,422.8 1448.8,421.5 1449.8,420.3 1450.7,419.5 1451.6,419.1 1452.6,419.5 1453.6,420.6 1454.6,422.2 1455.5,423.8 1456.5,425.3 1457.5,426.4 1458.5,426.8 1459.3,426.7 1460.2,425.9 1461.0,425.1 1461.9,424.1 1462.7,423.7 1463.6,424.0 1464.5,424.9 1465.5,426.2 1466.4,427.4 1467.3,428.2 1468.2,428.3 1469.1,428.1 1470.0,427.8 1471.0,427.5 1471.9,427.1 1472.8,427.0 1473.7,427.1 1474.5,427.3 1475.4,427.5 1476.2,427.8 1477.1,428.0 1477.9,428.3 1478.8,428.0 1479.7,426.8 1480.7,424.9 1481.6,422.7 1482.5,420.5 1483.4,418.6 1484.4,417.0 1485.4,415.5 1486.4,414.2 1487.3,412.9 1488.3,411.5 1489.3,409.6 1490.3,407.6 1491.2,405.1 1492.1,402.4 1493.0,399.5 1494.0,396.9 1494.9,394.8 1495.8,393.9 1496.6,394.6 1497.5,396.7 1498.3,399.6 1499.2,402.8 1500.0,406.1 1500.9,409.7 1501.8,414.1 1502.7,418.5 1503.5,422.8 1504.4,426.4 1505.3,428.8 1506.2,429.6 1507.1,428.6 1508.0,426.5 1508.8,423.6 1509.7,420.2 1510.6,414.4 1511.5,405.5 1512.5,395.0 1513.4,384.3 1514.3,374.8 1515.2,367.8 1516.0,362.6 1516.9,357.8 1517.8,354.1 1518.6,352.9 1519.4,353.4 1520.3,354.6 1521.1,356.4 1522.0,358.6 1522.8,361.2 1523.5,364.9 1524.2,370.3 1524.9,374.0 1525.7,376.2 1526.5,377.7 1527.4,379.0 1528.2,380.0 1529.0,381.5 1529.8,383.9 1530.7,387.3 1531.5,391.2 1532.4,394.9 1533.2,397.9 1534.0,400.2 1534.8,402.2 1535.7,404.2 1536.5,406.4 1537.3,409.1 1538.1,413.1 1538.9,418.5 1539.8,423.9 1540.6,428.2 1541.4,430.1 1542.1,429.9 1542.8,429.0 1543.5,427.5 1544.5,417.8" fill="none" stroke="#00aa62" stroke-width="5.4" stroke-linejoin="round" stroke-linecap="round"/>
<line x1="95.2" y1="92.3" x2="222" y2="92.3" stroke="#00aa62" stroke-width="5" stroke-linecap="round"/>
<text transform="translate(235.7,111.6) scale(0.965,1)" class="lg">C14-inulin/Na-bent</text>
<line x1="95.2" y1="163.2" x2="222" y2="163.2" stroke="#0066dd" stroke-width="5" stroke-linecap="round"/>
<text transform="translate(235.7,182.5) scale(0.965,1)" class="lg">C12-inulin/Na-bent</text>
<line x1="95.2" y1="233.9" x2="222" y2="233.9" stroke="#ff3b40" stroke-width="5" stroke-linecap="round"/>
<text transform="translate(235.7,253.4) scale(0.965,1)" class="lg">C10-inulin/Na-bent</text>
<line x1="95.2" y1="305.1" x2="222" y2="305.1" stroke="#555555" stroke-width="5" stroke-linecap="round"/>
<text transform="translate(235.7,324.3) scale(0.965,1)" class="lg">Na-bent</text>
<text transform="translate(187.5,1113.1) scale(0.96,1)" class="an">3625</text>
<text transform="translate(286.4,1034.1) scale(0.96,1)" class="an">3443</text>
<text transform="translate(1021.5,1128.0) scale(0.96,1)" class="an">1643</text>
<text transform="translate(1259.3,1048.6) scale(0.96,1)" class="an">1037</text>
<text transform="translate(1377.1,1130.9) scale(0.96,1)" class="an">798</text>
<g filter="url(#bl)" class="ax"><text transform="translate(592.5,1298.5) scale(0.985,1)">Wavenumber</text><text transform="translate(896.4,1298.5) scale(0.985,1)">(cm</text><text transform="translate(980.0,1275.3) scale(1.1,1)" style="font-size:34px">-</text><text transform="translate(995.6,1276.8) scale(0.72,1)" style="font-size:39px">1</text><text transform="translate(1010.2,1298.5) scale(0.985,1)">)</text></g>
</svg>
</body></html>
